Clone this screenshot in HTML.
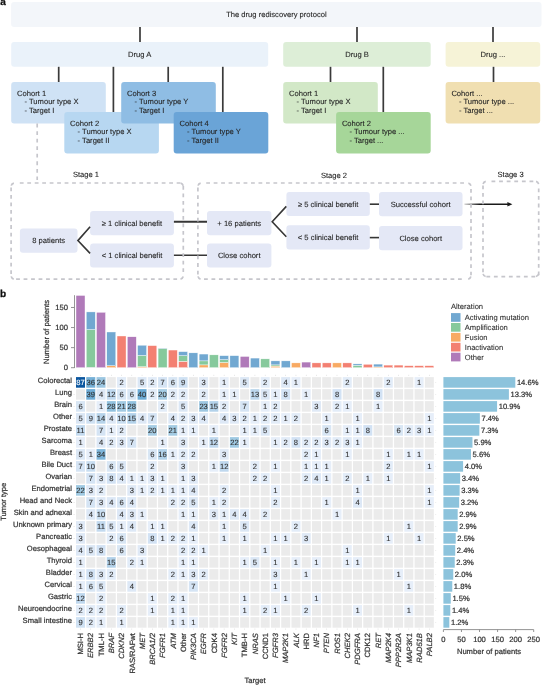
<!DOCTYPE html>
<html><head><meta charset="utf-8"><style>
html,body{margin:0;padding:0;background:#fff;}
body{width:542px;height:685px;position:relative;overflow:hidden;font-family:"Liberation Sans", sans-serif;}
svg text{font-family:"Liberation Sans", sans-serif;text-rendering:geometricPrecision;}
</style></head><body>
<svg width="542" height="685" viewBox="0 0 542 685" style="position:absolute;left:0;top:0;will-change:transform">
<text x="0.20" y="5.40" font-size="10" fill="#111" stroke="#111" text-anchor="start" stroke-width="0.3" font-weight="bold">a</text>
<rect x="11.10" y="2.10" width="530.40" height="24.80" rx="3" fill="#f3f6fa"/>
<text x="276.40" y="16.60" font-size="7.6" fill="#262626" stroke="#262626" text-anchor="middle" stroke-width="0.1">The drug rediscovery protocol</text>
<line x1="140.00" y1="26.90" x2="140.00" y2="42.10" stroke="#3a3a3a" stroke-width="1.7"/>
<line x1="357.00" y1="26.90" x2="357.00" y2="42.10" stroke="#3a3a3a" stroke-width="1.7"/>
<line x1="493.00" y1="26.90" x2="493.00" y2="42.10" stroke="#3a3a3a" stroke-width="1.7"/>
<rect x="11.20" y="42.10" width="257.00" height="24.70" rx="3" fill="#eaf2fa"/>
<text x="139.70" y="57.20" font-size="7.6" fill="#262626" stroke="#262626" text-anchor="middle" stroke-width="0.1">Drug A</text>
<rect x="283.20" y="42.10" width="147.50" height="24.70" rx="3" fill="#ddeed7"/>
<text x="357.00" y="57.20" font-size="7.6" fill="#262626" stroke="#262626" text-anchor="middle" stroke-width="0.1">Drug B</text>
<rect x="445.60" y="42.10" width="94.60" height="24.70" rx="3" fill="#f6f3d7"/>
<text x="493.00" y="57.20" font-size="7.6" fill="#262626" stroke="#262626" text-anchor="middle" stroke-width="0.1">Drug ...</text>
<line x1="58.70" y1="66.80" x2="58.70" y2="82.00" stroke="#3a3a3a" stroke-width="1.7"/>
<line x1="113.40" y1="66.80" x2="113.40" y2="112.00" stroke="#3a3a3a" stroke-width="1.7"/>
<line x1="168.20" y1="66.80" x2="168.20" y2="82.00" stroke="#3a3a3a" stroke-width="1.7"/>
<line x1="222.80" y1="66.80" x2="222.80" y2="112.00" stroke="#3a3a3a" stroke-width="1.7"/>
<line x1="330.50" y1="66.80" x2="330.50" y2="82.00" stroke="#3a3a3a" stroke-width="1.7"/>
<line x1="383.30" y1="66.80" x2="383.30" y2="112.00" stroke="#3a3a3a" stroke-width="1.7"/>
<line x1="493.50" y1="66.80" x2="493.50" y2="82.00" stroke="#3a3a3a" stroke-width="1.7"/>
<rect x="11.20" y="82.00" width="94.60" height="41.50" rx="3" fill="#cfe2f5"/>
<text x="17.00" y="96.00" font-size="7.6" fill="#262626" stroke="#262626" text-anchor="start" stroke-width="0.1">Cohort 1</text>
<text x="24.50" y="104.20" font-size="7.6" fill="#262626" stroke="#262626" text-anchor="start" stroke-width="0.1">- Tumour type X</text>
<text x="24.50" y="113.00" font-size="7.6" fill="#262626" stroke="#262626" text-anchor="start" stroke-width="0.1">- Target I</text>
<rect x="64.30" y="112.00" width="94.60" height="41.50" rx="3" fill="#b7d7f1"/>
<text x="70.10" y="126.00" font-size="7.6" fill="#262626" stroke="#262626" text-anchor="start" stroke-width="0.1">Cohort 2</text>
<text x="77.60" y="134.20" font-size="7.6" fill="#262626" stroke="#262626" text-anchor="start" stroke-width="0.1">- Tumour type X</text>
<text x="77.60" y="143.00" font-size="7.6" fill="#262626" stroke="#262626" text-anchor="start" stroke-width="0.1">- Target II</text>
<rect x="121.20" y="82.00" width="94.60" height="41.50" rx="3" fill="#8fbde4"/>
<text x="127.00" y="96.00" font-size="7.6" fill="#262626" stroke="#262626" text-anchor="start" stroke-width="0.1">Cohort 3</text>
<text x="134.50" y="104.20" font-size="7.6" fill="#262626" stroke="#262626" text-anchor="start" stroke-width="0.1">- Tumour type Y</text>
<text x="134.50" y="113.00" font-size="7.6" fill="#262626" stroke="#262626" text-anchor="start" stroke-width="0.1">- Target I</text>
<rect x="173.70" y="112.00" width="94.60" height="41.50" rx="3" fill="#6aa4d7"/>
<text x="179.50" y="126.00" font-size="7.6" fill="#262626" stroke="#262626" text-anchor="start" stroke-width="0.1">Cohort 4</text>
<text x="187.00" y="134.20" font-size="7.6" fill="#262626" stroke="#262626" text-anchor="start" stroke-width="0.1">- Tumour type Y</text>
<text x="187.00" y="143.00" font-size="7.6" fill="#262626" stroke="#262626" text-anchor="start" stroke-width="0.1">- Target II</text>
<rect x="283.20" y="82.00" width="94.60" height="41.50" rx="3" fill="#d2e8c7"/>
<text x="289.00" y="96.00" font-size="7.6" fill="#262626" stroke="#262626" text-anchor="start" stroke-width="0.1">Cohort 1</text>
<text x="296.50" y="104.20" font-size="7.6" fill="#262626" stroke="#262626" text-anchor="start" stroke-width="0.1">- Tumour type X</text>
<text x="296.50" y="113.00" font-size="7.6" fill="#262626" stroke="#262626" text-anchor="start" stroke-width="0.1">- Target I</text>
<rect x="336.10" y="112.00" width="94.60" height="41.50" rx="3" fill="#a6d699"/>
<text x="341.90" y="126.00" font-size="7.6" fill="#262626" stroke="#262626" text-anchor="start" stroke-width="0.1">Cohort 2</text>
<text x="349.40" y="134.20" font-size="7.6" fill="#262626" stroke="#262626" text-anchor="start" stroke-width="0.1">- Tumour type ...</text>
<text x="349.40" y="143.00" font-size="7.6" fill="#262626" stroke="#262626" text-anchor="start" stroke-width="0.1">- Target ...</text>
<rect x="445.60" y="82.00" width="94.60" height="41.50" rx="3" fill="#f0dfb1"/>
<text x="451.40" y="96.00" font-size="7.6" fill="#262626" stroke="#262626" text-anchor="start" stroke-width="0.1">Cohort ...</text>
<text x="458.90" y="104.20" font-size="7.6" fill="#262626" stroke="#262626" text-anchor="start" stroke-width="0.1">- Tumour type ...</text>
<text x="458.90" y="113.00" font-size="7.6" fill="#262626" stroke="#262626" text-anchor="start" stroke-width="0.1">- Target ...</text>
<line x1="37.2" y1="123.6" x2="37.2" y2="180" stroke="#c6c6cc" stroke-width="1.7" stroke-dasharray="3.8 3.75"/>
<text x="86.00" y="176.80" font-size="7.6" fill="#262626" stroke="#262626" text-anchor="middle" stroke-width="0.1">Stage 1</text>
<text x="334.00" y="178.00" font-size="7.6" fill="#262626" stroke="#262626" text-anchor="middle" stroke-width="0.1">Stage 2</text>
<text x="510.60" y="177.40" font-size="7.6" fill="#262626" stroke="#262626" text-anchor="middle" stroke-width="0.1">Stage 3</text>
<rect x="19.90" y="228.40" width="57.60" height="24.30" rx="3" fill="#e4e8f6"/>
<text x="48.70" y="243.30" font-size="7.6" fill="#262626" stroke="#262626" text-anchor="middle" stroke-width="0.1">8 patients</text>
<rect x="90.10" y="211.10" width="83.80" height="24.20" rx="3" fill="#e4e8f6"/>
<text x="132.00" y="226.00" font-size="7.6" fill="#262626" stroke="#262626" text-anchor="middle" stroke-width="0.1">&#8805; 1 clinical benefit</text>
<rect x="90.10" y="243.40" width="83.80" height="24.20" rx="3" fill="#e4e8f6"/>
<text x="132.00" y="258.20" font-size="7.6" fill="#262626" stroke="#262626" text-anchor="middle" stroke-width="0.1">&lt; 1 clinical benefit</text>
<rect x="207.00" y="211.00" width="64.40" height="24.30" rx="3" fill="#e4e8f6"/>
<text x="239.20" y="225.80" font-size="7.6" fill="#262626" stroke="#262626" text-anchor="middle" stroke-width="0.1">+ 16 patients</text>
<rect x="207.00" y="243.40" width="64.40" height="24.20" rx="3" fill="#e4e8f6"/>
<text x="239.20" y="258.20" font-size="7.6" fill="#262626" stroke="#262626" text-anchor="middle" stroke-width="0.1">Close cohort</text>
<rect x="286.40" y="191.90" width="83.40" height="24.20" rx="3" fill="#e4e8f6"/>
<text x="328.10" y="206.70" font-size="7.6" fill="#262626" stroke="#262626" text-anchor="middle" stroke-width="0.1">&#8805; 5 clinical benefit</text>
<rect x="286.40" y="225.30" width="83.40" height="24.30" rx="3" fill="#e4e8f6"/>
<text x="328.10" y="240.30" font-size="7.6" fill="#262626" stroke="#262626" text-anchor="middle" stroke-width="0.1">&lt; 5 clinical benefit</text>
<rect x="379.00" y="192.00" width="83.50" height="24.20" rx="3" fill="#e4e8f6"/>
<text x="420.70" y="206.80" font-size="7.6" fill="#262626" stroke="#262626" text-anchor="middle" stroke-width="0.1">Successful cohort</text>
<rect x="379.00" y="226.00" width="83.50" height="24.30" rx="3" fill="#e4e8f6"/>
<text x="420.70" y="240.60" font-size="7.6" fill="#262626" stroke="#262626" text-anchor="middle" stroke-width="0.1">Close cohort</text>
<polyline points="90.1,226.8 77.9,240.6 90.1,253.4" fill="none" stroke="#363636" stroke-width="1.6"/>
<polyline points="286.3,206.4 272.2,221.7 286.3,236.8" fill="none" stroke="#363636" stroke-width="1.6"/>
<line x1="173.9" y1="221.7" x2="207" y2="221.7" stroke="#363636" stroke-width="1.9"/>
<line x1="173.9" y1="255.3" x2="207" y2="255.3" stroke="#363636" stroke-width="1.4"/>
<line x1="369.8" y1="204.2" x2="379" y2="204.2" stroke="#363636" stroke-width="1.6"/>
<line x1="369.8" y1="237.6" x2="379" y2="237.6" stroke="#363636" stroke-width="1.6"/>
<defs><linearGradient id="ag" x1="464" y1="0" x2="509" y2="0" gradientUnits="userSpaceOnUse"><stop offset="0" stop-color="#1a1a1a" stop-opacity="0.15"/><stop offset="0.35" stop-color="#1a1a1a" stop-opacity="1"/><stop offset="1" stop-color="#1a1a1a"/></linearGradient></defs>
<line x1="464.4" y1="204.2" x2="509" y2="204.2" stroke="url(#ag)" stroke-width="1.6"/>
<polygon points="507.4,202.0 512.4,204.2 507.4,206.4" fill="#1a1a1a"/>
<line x1="19.8" y1="183" x2="180.5" y2="183" stroke="#c6c6cc" stroke-width="1.7" stroke-dasharray="3.8 3.67"/>
<line x1="183.3" y1="186" x2="183.3" y2="272.1" stroke="#c6c6cc" stroke-width="1.7" stroke-dasharray="3.8 3.68"/>
<line x1="16.1" y1="279.2" x2="177.1" y2="279.2" stroke="#c6c6cc" stroke-width="1.7" stroke-dasharray="3.8 3.69"/>
<line x1="11.1" y1="187.4" x2="11.1" y2="274.1" stroke="#c6c6cc" stroke-width="1.7" stroke-dasharray="3.8 3.74"/>
<path d="M11.1,186.5 A3.5,3.5 0 0 1 14.6,183" fill="none" stroke="#c6c6cc" stroke-width="1.7" stroke-dasharray="0 0.9 3.7 9"/>
<path d="M179.8,183 A3.5,3.5 0 0 1 183.3,186.5" fill="none" stroke="#c6c6cc" stroke-width="1.7" stroke-dasharray="0 0.9 3.7 9"/>
<path d="M183.3,275.7 A3.5,3.5 0 0 1 179.8,279.2" fill="none" stroke="#c6c6cc" stroke-width="1.7" stroke-dasharray="0 0.9 3.7 9"/>
<path d="M14.6,279.2 A3.5,3.5 0 0 1 11.1,275.7" fill="none" stroke="#c6c6cc" stroke-width="1.7" stroke-dasharray="0 0.9 3.7 9"/>
<line x1="206.2" y1="183" x2="464" y2="183" stroke="#c6c6cc" stroke-width="1.7" stroke-dasharray="3.8 3.67"/>
<line x1="471" y1="189" x2="471" y2="275.3" stroke="#c6c6cc" stroke-width="1.7" stroke-dasharray="3.8 3.72"/>
<line x1="204" y1="279.2" x2="461.8" y2="279.2" stroke="#c6c6cc" stroke-width="1.7" stroke-dasharray="3.8 3.67"/>
<line x1="197.9" y1="187.6" x2="197.9" y2="274.5" stroke="#c6c6cc" stroke-width="1.7" stroke-dasharray="3.8 3.75"/>
<path d="M197.9,186.5 A3.5,3.5 0 0 1 201.4,183" fill="none" stroke="#c6c6cc" stroke-width="1.7" stroke-dasharray="0 0.9 3.7 9"/>
<path d="M467.5,183 A3.5,3.5 0 0 1 471,186.5" fill="none" stroke="#c6c6cc" stroke-width="1.7" stroke-dasharray="0 0.9 3.7 9"/>
<path d="M471,275.7 A3.5,3.5 0 0 1 467.5,279.2" fill="none" stroke="#c6c6cc" stroke-width="1.7" stroke-dasharray="0 0.9 3.7 9"/>
<path d="M201.4,279.2 A3.5,3.5 0 0 1 197.9,275.7" fill="none" stroke="#c6c6cc" stroke-width="1.7" stroke-dasharray="0 0.9 3.7 9"/>
<line x1="491.5" y1="181.3" x2="533.7" y2="181.3" stroke="#c6c6cc" stroke-width="1.7" stroke-dasharray="3.8 3.80"/>
<line x1="538.7" y1="188.5" x2="538.7" y2="275.3" stroke="#c6c6cc" stroke-width="1.7" stroke-dasharray="3.8 3.75"/>
<line x1="486.4" y1="276.6" x2="535.2" y2="276.6" stroke="#c6c6cc" stroke-width="1.7" stroke-dasharray="3.8 3.70"/>
<line x1="483" y1="185.4" x2="483" y2="272.4" stroke="#c6c6cc" stroke-width="1.7" stroke-dasharray="3.8 3.76"/>
<path d="M483,184.8 A3.5,3.5 0 0 1 486.5,181.3" fill="none" stroke="#c6c6cc" stroke-width="1.7" stroke-dasharray="0 0.9 3.7 9"/>
<path d="M535.2,181.3 A3.5,3.5 0 0 1 538.7,184.8" fill="none" stroke="#c6c6cc" stroke-width="1.7" stroke-dasharray="0 0.9 3.7 9"/>
<path d="M538.7,273.1 A3.5,3.5 0 0 1 535.2,276.6" fill="none" stroke="#c6c6cc" stroke-width="1.7" stroke-dasharray="0 0.9 3.7 9"/>
<path d="M486.5,276.6 A3.5,3.5 0 0 1 483,273.1" fill="none" stroke="#c6c6cc" stroke-width="1.7" stroke-dasharray="0 0.9 3.7 9"/>
<text x="-0.10" y="296.60" font-size="10" fill="#111" stroke="#111" text-anchor="start" stroke-width="0.3" font-weight="bold">b</text>
<rect x="76.00" y="377.10" width="9.0" height="10.6" fill="#0b569f"/>
<text x="80.50" y="385.10" fill="#fff" stroke="#fff" font-size="7.6" text-anchor="middle" stroke-width="0.12">87</text>
<rect x="86.26" y="377.10" width="9.0" height="10.6" fill="#76b1d8"/>
<text x="90.76" y="385.10" fill="#333" stroke="#333" font-size="7.6" text-anchor="middle" stroke-width="0.12">36</text>
<rect x="96.52" y="377.10" width="9.0" height="10.6" fill="#9cc7e2"/>
<text x="101.02" y="385.10" fill="#333" stroke="#333" font-size="7.6" text-anchor="middle" stroke-width="0.12">24</text>
<rect x="106.78" y="377.10" width="9.0" height="10.6" fill="#ebebeb"/>
<rect x="117.04" y="377.10" width="9.0" height="10.6" fill="#e2ecf8"/>
<text x="121.54" y="385.10" fill="#333" stroke="#333" font-size="7.6" text-anchor="middle" stroke-width="0.12">2</text>
<rect x="127.30" y="377.10" width="9.0" height="10.6" fill="#ebebeb"/>
<rect x="137.56" y="377.10" width="9.0" height="10.6" fill="#dbe7f5"/>
<text x="142.06" y="385.10" fill="#333" stroke="#333" font-size="7.6" text-anchor="middle" stroke-width="0.12">5</text>
<rect x="147.82" y="377.10" width="9.0" height="10.6" fill="#e2ecf8"/>
<text x="152.32" y="385.10" fill="#333" stroke="#333" font-size="7.6" text-anchor="middle" stroke-width="0.12">2</text>
<rect x="158.08" y="377.10" width="9.0" height="10.6" fill="#d5e4f4"/>
<text x="162.58" y="385.10" fill="#333" stroke="#333" font-size="7.6" text-anchor="middle" stroke-width="0.12">7</text>
<rect x="168.34" y="377.10" width="9.0" height="10.6" fill="#d8e6f4"/>
<text x="172.84" y="385.10" fill="#333" stroke="#333" font-size="7.6" text-anchor="middle" stroke-width="0.12">6</text>
<rect x="178.60" y="377.10" width="9.0" height="10.6" fill="#cfe1f3"/>
<text x="183.10" y="385.10" fill="#333" stroke="#333" font-size="7.6" text-anchor="middle" stroke-width="0.12">9</text>
<rect x="188.86" y="377.10" width="9.0" height="10.6" fill="#ebebeb"/>
<rect x="199.12" y="377.10" width="9.0" height="10.6" fill="#dfe9f6"/>
<text x="203.62" y="385.10" fill="#333" stroke="#333" font-size="7.6" text-anchor="middle" stroke-width="0.12">3</text>
<rect x="209.38" y="377.10" width="9.0" height="10.6" fill="#ebebeb"/>
<rect x="219.64" y="377.10" width="9.0" height="10.6" fill="#e6eef9"/>
<text x="224.14" y="385.10" fill="#333" stroke="#333" font-size="7.6" text-anchor="middle" stroke-width="0.12">1</text>
<rect x="229.90" y="377.10" width="9.0" height="10.6" fill="#ebebeb"/>
<rect x="240.16" y="377.10" width="9.0" height="10.6" fill="#dbe7f5"/>
<text x="244.66" y="385.10" fill="#333" stroke="#333" font-size="7.6" text-anchor="middle" stroke-width="0.12">5</text>
<rect x="250.42" y="377.10" width="9.0" height="10.6" fill="#ebebeb"/>
<rect x="260.68" y="377.10" width="9.0" height="10.6" fill="#e2ecf8"/>
<text x="265.18" y="385.10" fill="#333" stroke="#333" font-size="7.6" text-anchor="middle" stroke-width="0.12">2</text>
<rect x="270.94" y="377.10" width="9.0" height="10.6" fill="#ebebeb"/>
<rect x="281.20" y="377.10" width="9.0" height="10.6" fill="#dde8f6"/>
<text x="285.70" y="385.10" fill="#333" stroke="#333" font-size="7.6" text-anchor="middle" stroke-width="0.12">4</text>
<rect x="291.46" y="377.10" width="9.0" height="10.6" fill="#e6eef9"/>
<text x="295.96" y="385.10" fill="#333" stroke="#333" font-size="7.6" text-anchor="middle" stroke-width="0.12">1</text>
<rect x="301.72" y="377.10" width="9.0" height="10.6" fill="#ebebeb"/>
<rect x="311.98" y="377.10" width="9.0" height="10.6" fill="#ebebeb"/>
<rect x="322.24" y="377.10" width="9.0" height="10.6" fill="#ebebeb"/>
<rect x="332.50" y="377.10" width="9.0" height="10.6" fill="#ebebeb"/>
<rect x="342.76" y="377.10" width="9.0" height="10.6" fill="#e2ecf8"/>
<text x="347.26" y="385.10" fill="#333" stroke="#333" font-size="7.6" text-anchor="middle" stroke-width="0.12">2</text>
<rect x="353.02" y="377.10" width="9.0" height="10.6" fill="#ebebeb"/>
<rect x="363.28" y="377.10" width="9.0" height="10.6" fill="#ebebeb"/>
<rect x="373.54" y="377.10" width="9.0" height="10.6" fill="#ebebeb"/>
<rect x="383.80" y="377.10" width="9.0" height="10.6" fill="#e2ecf8"/>
<text x="388.30" y="385.10" fill="#333" stroke="#333" font-size="7.6" text-anchor="middle" stroke-width="0.12">2</text>
<rect x="394.06" y="377.10" width="9.0" height="10.6" fill="#ebebeb"/>
<rect x="404.32" y="377.10" width="9.0" height="10.6" fill="#ebebeb"/>
<rect x="414.58" y="377.10" width="9.0" height="10.6" fill="#e6eef9"/>
<text x="419.08" y="385.10" fill="#333" stroke="#333" font-size="7.6" text-anchor="middle" stroke-width="0.12">1</text>
<rect x="424.84" y="377.10" width="9.0" height="10.6" fill="#ebebeb"/>
<rect x="76.00" y="389.10" width="9.0" height="10.6" fill="#ebebeb"/>
<rect x="86.26" y="389.10" width="9.0" height="10.6" fill="#6eacd6"/>
<text x="90.76" y="397.10" fill="#333" stroke="#333" font-size="7.6" text-anchor="middle" stroke-width="0.12">39</text>
<rect x="96.52" y="389.10" width="9.0" height="10.6" fill="#dde8f6"/>
<text x="101.02" y="397.10" fill="#333" stroke="#333" font-size="7.6" text-anchor="middle" stroke-width="0.12">4</text>
<rect x="106.78" y="389.10" width="9.0" height="10.6" fill="#bfd8ee"/>
<text x="111.28" y="397.10" fill="#333" stroke="#333" font-size="7.6" text-anchor="middle" stroke-width="0.12">12</text>
<rect x="117.04" y="389.10" width="9.0" height="10.6" fill="#d8e6f4"/>
<text x="121.54" y="397.10" fill="#333" stroke="#333" font-size="7.6" text-anchor="middle" stroke-width="0.12">6</text>
<rect x="127.30" y="389.10" width="9.0" height="10.6" fill="#d8e6f4"/>
<text x="131.80" y="397.10" fill="#333" stroke="#333" font-size="7.6" text-anchor="middle" stroke-width="0.12">6</text>
<rect x="137.56" y="389.10" width="9.0" height="10.6" fill="#6babd5"/>
<text x="142.06" y="397.10" fill="#333" stroke="#333" font-size="7.6" text-anchor="middle" stroke-width="0.12">40</text>
<rect x="147.82" y="389.10" width="9.0" height="10.6" fill="#e2ecf8"/>
<text x="152.32" y="397.10" fill="#333" stroke="#333" font-size="7.6" text-anchor="middle" stroke-width="0.12">2</text>
<rect x="158.08" y="389.10" width="9.0" height="10.6" fill="#a5cce4"/>
<text x="162.58" y="397.10" fill="#333" stroke="#333" font-size="7.6" text-anchor="middle" stroke-width="0.12">20</text>
<rect x="168.34" y="389.10" width="9.0" height="10.6" fill="#e2ecf8"/>
<text x="172.84" y="397.10" fill="#333" stroke="#333" font-size="7.6" text-anchor="middle" stroke-width="0.12">2</text>
<rect x="178.60" y="389.10" width="9.0" height="10.6" fill="#e2ecf8"/>
<text x="183.10" y="397.10" fill="#333" stroke="#333" font-size="7.6" text-anchor="middle" stroke-width="0.12">2</text>
<rect x="188.86" y="389.10" width="9.0" height="10.6" fill="#ebebeb"/>
<rect x="199.12" y="389.10" width="9.0" height="10.6" fill="#e2ecf8"/>
<text x="203.62" y="397.10" fill="#333" stroke="#333" font-size="7.6" text-anchor="middle" stroke-width="0.12">2</text>
<rect x="209.38" y="389.10" width="9.0" height="10.6" fill="#ebebeb"/>
<rect x="219.64" y="389.10" width="9.0" height="10.6" fill="#e6eef9"/>
<text x="224.14" y="397.10" fill="#333" stroke="#333" font-size="7.6" text-anchor="middle" stroke-width="0.12">1</text>
<rect x="229.90" y="389.10" width="9.0" height="10.6" fill="#e6eef9"/>
<text x="234.40" y="397.10" fill="#333" stroke="#333" font-size="7.6" text-anchor="middle" stroke-width="0.12">1</text>
<rect x="240.16" y="389.10" width="9.0" height="10.6" fill="#ebebeb"/>
<rect x="250.42" y="389.10" width="9.0" height="10.6" fill="#bbd6ec"/>
<text x="254.92" y="397.10" fill="#333" stroke="#333" font-size="7.6" text-anchor="middle" stroke-width="0.12">13</text>
<rect x="260.68" y="389.10" width="9.0" height="10.6" fill="#dbe7f5"/>
<text x="265.18" y="397.10" fill="#333" stroke="#333" font-size="7.6" text-anchor="middle" stroke-width="0.12">5</text>
<rect x="270.94" y="389.10" width="9.0" height="10.6" fill="#e6eef9"/>
<text x="275.44" y="397.10" fill="#333" stroke="#333" font-size="7.6" text-anchor="middle" stroke-width="0.12">1</text>
<rect x="281.20" y="389.10" width="9.0" height="10.6" fill="#d2e2f4"/>
<text x="285.70" y="397.10" fill="#333" stroke="#333" font-size="7.6" text-anchor="middle" stroke-width="0.12">8</text>
<rect x="291.46" y="389.10" width="9.0" height="10.6" fill="#ebebeb"/>
<rect x="301.72" y="389.10" width="9.0" height="10.6" fill="#e6eef9"/>
<text x="306.22" y="397.10" fill="#333" stroke="#333" font-size="7.6" text-anchor="middle" stroke-width="0.12">1</text>
<rect x="311.98" y="389.10" width="9.0" height="10.6" fill="#ebebeb"/>
<rect x="322.24" y="389.10" width="9.0" height="10.6" fill="#ebebeb"/>
<rect x="332.50" y="389.10" width="9.0" height="10.6" fill="#d2e2f4"/>
<text x="337.00" y="397.10" fill="#333" stroke="#333" font-size="7.6" text-anchor="middle" stroke-width="0.12">8</text>
<rect x="342.76" y="389.10" width="9.0" height="10.6" fill="#ebebeb"/>
<rect x="353.02" y="389.10" width="9.0" height="10.6" fill="#ebebeb"/>
<rect x="363.28" y="389.10" width="9.0" height="10.6" fill="#ebebeb"/>
<rect x="373.54" y="389.10" width="9.0" height="10.6" fill="#d2e2f4"/>
<text x="378.04" y="397.10" fill="#333" stroke="#333" font-size="7.6" text-anchor="middle" stroke-width="0.12">8</text>
<rect x="383.80" y="389.10" width="9.0" height="10.6" fill="#ebebeb"/>
<rect x="394.06" y="389.10" width="9.0" height="10.6" fill="#ebebeb"/>
<rect x="404.32" y="389.10" width="9.0" height="10.6" fill="#ebebeb"/>
<rect x="414.58" y="389.10" width="9.0" height="10.6" fill="#ebebeb"/>
<rect x="424.84" y="389.10" width="9.0" height="10.6" fill="#ebebeb"/>
<rect x="76.00" y="401.10" width="9.0" height="10.6" fill="#d8e6f4"/>
<text x="80.50" y="409.10" fill="#333" stroke="#333" font-size="7.6" text-anchor="middle" stroke-width="0.12">6</text>
<rect x="86.26" y="401.10" width="9.0" height="10.6" fill="#ebebeb"/>
<rect x="96.52" y="401.10" width="9.0" height="10.6" fill="#e6eef9"/>
<text x="101.02" y="409.10" fill="#333" stroke="#333" font-size="7.6" text-anchor="middle" stroke-width="0.12">1</text>
<rect x="106.78" y="401.10" width="9.0" height="10.6" fill="#92c2df"/>
<text x="111.28" y="409.10" fill="#333" stroke="#333" font-size="7.6" text-anchor="middle" stroke-width="0.12">28</text>
<rect x="117.04" y="401.10" width="9.0" height="10.6" fill="#a3cbe3"/>
<text x="121.54" y="409.10" fill="#333" stroke="#333" font-size="7.6" text-anchor="middle" stroke-width="0.12">21</text>
<rect x="127.30" y="401.10" width="9.0" height="10.6" fill="#92c2df"/>
<text x="131.80" y="409.10" fill="#333" stroke="#333" font-size="7.6" text-anchor="middle" stroke-width="0.12">28</text>
<rect x="137.56" y="401.10" width="9.0" height="10.6" fill="#ebebeb"/>
<rect x="147.82" y="401.10" width="9.0" height="10.6" fill="#ebebeb"/>
<rect x="158.08" y="401.10" width="9.0" height="10.6" fill="#e2ecf8"/>
<text x="162.58" y="409.10" fill="#333" stroke="#333" font-size="7.6" text-anchor="middle" stroke-width="0.12">2</text>
<rect x="168.34" y="401.10" width="9.0" height="10.6" fill="#ebebeb"/>
<rect x="178.60" y="401.10" width="9.0" height="10.6" fill="#dbe7f5"/>
<text x="183.10" y="409.10" fill="#333" stroke="#333" font-size="7.6" text-anchor="middle" stroke-width="0.12">5</text>
<rect x="188.86" y="401.10" width="9.0" height="10.6" fill="#ebebeb"/>
<rect x="199.12" y="401.10" width="9.0" height="10.6" fill="#9ec8e2"/>
<text x="203.62" y="409.10" fill="#333" stroke="#333" font-size="7.6" text-anchor="middle" stroke-width="0.12">23</text>
<rect x="209.38" y="401.10" width="9.0" height="10.6" fill="#b3d2ea"/>
<text x="213.88" y="409.10" fill="#333" stroke="#333" font-size="7.6" text-anchor="middle" stroke-width="0.12">15</text>
<rect x="219.64" y="401.10" width="9.0" height="10.6" fill="#e2ecf8"/>
<text x="224.14" y="409.10" fill="#333" stroke="#333" font-size="7.6" text-anchor="middle" stroke-width="0.12">2</text>
<rect x="229.90" y="401.10" width="9.0" height="10.6" fill="#ebebeb"/>
<rect x="240.16" y="401.10" width="9.0" height="10.6" fill="#d5e4f4"/>
<text x="244.66" y="409.10" fill="#333" stroke="#333" font-size="7.6" text-anchor="middle" stroke-width="0.12">7</text>
<rect x="250.42" y="401.10" width="9.0" height="10.6" fill="#ebebeb"/>
<rect x="260.68" y="401.10" width="9.0" height="10.6" fill="#e6eef9"/>
<text x="265.18" y="409.10" fill="#333" stroke="#333" font-size="7.6" text-anchor="middle" stroke-width="0.12">1</text>
<rect x="270.94" y="401.10" width="9.0" height="10.6" fill="#e2ecf8"/>
<text x="275.44" y="409.10" fill="#333" stroke="#333" font-size="7.6" text-anchor="middle" stroke-width="0.12">2</text>
<rect x="281.20" y="401.10" width="9.0" height="10.6" fill="#ebebeb"/>
<rect x="291.46" y="401.10" width="9.0" height="10.6" fill="#ebebeb"/>
<rect x="301.72" y="401.10" width="9.0" height="10.6" fill="#ebebeb"/>
<rect x="311.98" y="401.10" width="9.0" height="10.6" fill="#dfe9f6"/>
<text x="316.48" y="409.10" fill="#333" stroke="#333" font-size="7.6" text-anchor="middle" stroke-width="0.12">3</text>
<rect x="322.24" y="401.10" width="9.0" height="10.6" fill="#ebebeb"/>
<rect x="332.50" y="401.10" width="9.0" height="10.6" fill="#e2ecf8"/>
<text x="337.00" y="409.10" fill="#333" stroke="#333" font-size="7.6" text-anchor="middle" stroke-width="0.12">2</text>
<rect x="342.76" y="401.10" width="9.0" height="10.6" fill="#e6eef9"/>
<text x="347.26" y="409.10" fill="#333" stroke="#333" font-size="7.6" text-anchor="middle" stroke-width="0.12">1</text>
<rect x="353.02" y="401.10" width="9.0" height="10.6" fill="#ebebeb"/>
<rect x="363.28" y="401.10" width="9.0" height="10.6" fill="#ebebeb"/>
<rect x="373.54" y="401.10" width="9.0" height="10.6" fill="#e6eef9"/>
<text x="378.04" y="409.10" fill="#333" stroke="#333" font-size="7.6" text-anchor="middle" stroke-width="0.12">1</text>
<rect x="383.80" y="401.10" width="9.0" height="10.6" fill="#ebebeb"/>
<rect x="394.06" y="401.10" width="9.0" height="10.6" fill="#ebebeb"/>
<rect x="404.32" y="401.10" width="9.0" height="10.6" fill="#ebebeb"/>
<rect x="414.58" y="401.10" width="9.0" height="10.6" fill="#ebebeb"/>
<rect x="424.84" y="401.10" width="9.0" height="10.6" fill="#ebebeb"/>
<rect x="76.00" y="413.10" width="9.0" height="10.6" fill="#dbe7f5"/>
<text x="80.50" y="421.10" fill="#333" stroke="#333" font-size="7.6" text-anchor="middle" stroke-width="0.12">5</text>
<rect x="86.26" y="413.10" width="9.0" height="10.6" fill="#cfe1f3"/>
<text x="90.76" y="421.10" fill="#333" stroke="#333" font-size="7.6" text-anchor="middle" stroke-width="0.12">9</text>
<rect x="96.52" y="413.10" width="9.0" height="10.6" fill="#b7d4eb"/>
<text x="101.02" y="421.10" fill="#333" stroke="#333" font-size="7.6" text-anchor="middle" stroke-width="0.12">14</text>
<rect x="106.78" y="413.10" width="9.0" height="10.6" fill="#dde8f6"/>
<text x="111.28" y="421.10" fill="#333" stroke="#333" font-size="7.6" text-anchor="middle" stroke-width="0.12">4</text>
<rect x="117.04" y="413.10" width="9.0" height="10.6" fill="#c9def1"/>
<text x="121.54" y="421.10" fill="#333" stroke="#333" font-size="7.6" text-anchor="middle" stroke-width="0.12">10</text>
<rect x="127.30" y="413.10" width="9.0" height="10.6" fill="#b3d2ea"/>
<text x="131.80" y="421.10" fill="#333" stroke="#333" font-size="7.6" text-anchor="middle" stroke-width="0.12">15</text>
<rect x="137.56" y="413.10" width="9.0" height="10.6" fill="#dde8f6"/>
<text x="142.06" y="421.10" fill="#333" stroke="#333" font-size="7.6" text-anchor="middle" stroke-width="0.12">4</text>
<rect x="147.82" y="413.10" width="9.0" height="10.6" fill="#d5e4f4"/>
<text x="152.32" y="421.10" fill="#333" stroke="#333" font-size="7.6" text-anchor="middle" stroke-width="0.12">7</text>
<rect x="158.08" y="413.10" width="9.0" height="10.6" fill="#ebebeb"/>
<rect x="168.34" y="413.10" width="9.0" height="10.6" fill="#dde8f6"/>
<text x="172.84" y="421.10" fill="#333" stroke="#333" font-size="7.6" text-anchor="middle" stroke-width="0.12">4</text>
<rect x="178.60" y="413.10" width="9.0" height="10.6" fill="#e2ecf8"/>
<text x="183.10" y="421.10" fill="#333" stroke="#333" font-size="7.6" text-anchor="middle" stroke-width="0.12">2</text>
<rect x="188.86" y="413.10" width="9.0" height="10.6" fill="#dfe9f6"/>
<text x="193.36" y="421.10" fill="#333" stroke="#333" font-size="7.6" text-anchor="middle" stroke-width="0.12">3</text>
<rect x="199.12" y="413.10" width="9.0" height="10.6" fill="#dde8f6"/>
<text x="203.62" y="421.10" fill="#333" stroke="#333" font-size="7.6" text-anchor="middle" stroke-width="0.12">4</text>
<rect x="209.38" y="413.10" width="9.0" height="10.6" fill="#ebebeb"/>
<rect x="219.64" y="413.10" width="9.0" height="10.6" fill="#dde8f6"/>
<text x="224.14" y="421.10" fill="#333" stroke="#333" font-size="7.6" text-anchor="middle" stroke-width="0.12">4</text>
<rect x="229.90" y="413.10" width="9.0" height="10.6" fill="#dfe9f6"/>
<text x="234.40" y="421.10" fill="#333" stroke="#333" font-size="7.6" text-anchor="middle" stroke-width="0.12">3</text>
<rect x="240.16" y="413.10" width="9.0" height="10.6" fill="#e2ecf8"/>
<text x="244.66" y="421.10" fill="#333" stroke="#333" font-size="7.6" text-anchor="middle" stroke-width="0.12">2</text>
<rect x="250.42" y="413.10" width="9.0" height="10.6" fill="#e6eef9"/>
<text x="254.92" y="421.10" fill="#333" stroke="#333" font-size="7.6" text-anchor="middle" stroke-width="0.12">1</text>
<rect x="260.68" y="413.10" width="9.0" height="10.6" fill="#e2ecf8"/>
<text x="265.18" y="421.10" fill="#333" stroke="#333" font-size="7.6" text-anchor="middle" stroke-width="0.12">2</text>
<rect x="270.94" y="413.10" width="9.0" height="10.6" fill="#e2ecf8"/>
<text x="275.44" y="421.10" fill="#333" stroke="#333" font-size="7.6" text-anchor="middle" stroke-width="0.12">2</text>
<rect x="281.20" y="413.10" width="9.0" height="10.6" fill="#e6eef9"/>
<text x="285.70" y="421.10" fill="#333" stroke="#333" font-size="7.6" text-anchor="middle" stroke-width="0.12">1</text>
<rect x="291.46" y="413.10" width="9.0" height="10.6" fill="#e2ecf8"/>
<text x="295.96" y="421.10" fill="#333" stroke="#333" font-size="7.6" text-anchor="middle" stroke-width="0.12">2</text>
<rect x="301.72" y="413.10" width="9.0" height="10.6" fill="#ebebeb"/>
<rect x="311.98" y="413.10" width="9.0" height="10.6" fill="#ebebeb"/>
<rect x="322.24" y="413.10" width="9.0" height="10.6" fill="#e6eef9"/>
<text x="326.74" y="421.10" fill="#333" stroke="#333" font-size="7.6" text-anchor="middle" stroke-width="0.12">1</text>
<rect x="332.50" y="413.10" width="9.0" height="10.6" fill="#ebebeb"/>
<rect x="342.76" y="413.10" width="9.0" height="10.6" fill="#ebebeb"/>
<rect x="353.02" y="413.10" width="9.0" height="10.6" fill="#e6eef9"/>
<text x="357.52" y="421.10" fill="#333" stroke="#333" font-size="7.6" text-anchor="middle" stroke-width="0.12">1</text>
<rect x="363.28" y="413.10" width="9.0" height="10.6" fill="#ebebeb"/>
<rect x="373.54" y="413.10" width="9.0" height="10.6" fill="#ebebeb"/>
<rect x="383.80" y="413.10" width="9.0" height="10.6" fill="#ebebeb"/>
<rect x="394.06" y="413.10" width="9.0" height="10.6" fill="#ebebeb"/>
<rect x="404.32" y="413.10" width="9.0" height="10.6" fill="#ebebeb"/>
<rect x="414.58" y="413.10" width="9.0" height="10.6" fill="#ebebeb"/>
<rect x="424.84" y="413.10" width="9.0" height="10.6" fill="#e6eef9"/>
<text x="429.34" y="421.10" fill="#333" stroke="#333" font-size="7.6" text-anchor="middle" stroke-width="0.12">1</text>
<rect x="76.00" y="425.10" width="9.0" height="10.6" fill="#c3daef"/>
<text x="80.50" y="433.10" fill="#333" stroke="#333" font-size="7.6" text-anchor="middle" stroke-width="0.12">11</text>
<rect x="86.26" y="425.10" width="9.0" height="10.6" fill="#ebebeb"/>
<rect x="96.52" y="425.10" width="9.0" height="10.6" fill="#d5e4f4"/>
<text x="101.02" y="433.10" fill="#333" stroke="#333" font-size="7.6" text-anchor="middle" stroke-width="0.12">7</text>
<rect x="106.78" y="425.10" width="9.0" height="10.6" fill="#e6eef9"/>
<text x="111.28" y="433.10" fill="#333" stroke="#333" font-size="7.6" text-anchor="middle" stroke-width="0.12">1</text>
<rect x="117.04" y="425.10" width="9.0" height="10.6" fill="#e2ecf8"/>
<text x="121.54" y="433.10" fill="#333" stroke="#333" font-size="7.6" text-anchor="middle" stroke-width="0.12">2</text>
<rect x="127.30" y="425.10" width="9.0" height="10.6" fill="#ebebeb"/>
<rect x="137.56" y="425.10" width="9.0" height="10.6" fill="#ebebeb"/>
<rect x="147.82" y="425.10" width="9.0" height="10.6" fill="#a5cce4"/>
<text x="152.32" y="433.10" fill="#333" stroke="#333" font-size="7.6" text-anchor="middle" stroke-width="0.12">20</text>
<rect x="158.08" y="425.10" width="9.0" height="10.6" fill="#ebebeb"/>
<rect x="168.34" y="425.10" width="9.0" height="10.6" fill="#a3cbe3"/>
<text x="172.84" y="433.10" fill="#333" stroke="#333" font-size="7.6" text-anchor="middle" stroke-width="0.12">21</text>
<rect x="178.60" y="425.10" width="9.0" height="10.6" fill="#e6eef9"/>
<text x="183.10" y="433.10" fill="#333" stroke="#333" font-size="7.6" text-anchor="middle" stroke-width="0.12">1</text>
<rect x="188.86" y="425.10" width="9.0" height="10.6" fill="#e6eef9"/>
<text x="193.36" y="433.10" fill="#333" stroke="#333" font-size="7.6" text-anchor="middle" stroke-width="0.12">1</text>
<rect x="199.12" y="425.10" width="9.0" height="10.6" fill="#ebebeb"/>
<rect x="209.38" y="425.10" width="9.0" height="10.6" fill="#e6eef9"/>
<text x="213.88" y="433.10" fill="#333" stroke="#333" font-size="7.6" text-anchor="middle" stroke-width="0.12">1</text>
<rect x="219.64" y="425.10" width="9.0" height="10.6" fill="#ebebeb"/>
<rect x="229.90" y="425.10" width="9.0" height="10.6" fill="#ebebeb"/>
<rect x="240.16" y="425.10" width="9.0" height="10.6" fill="#e6eef9"/>
<text x="244.66" y="433.10" fill="#333" stroke="#333" font-size="7.6" text-anchor="middle" stroke-width="0.12">1</text>
<rect x="250.42" y="425.10" width="9.0" height="10.6" fill="#e6eef9"/>
<text x="254.92" y="433.10" fill="#333" stroke="#333" font-size="7.6" text-anchor="middle" stroke-width="0.12">1</text>
<rect x="260.68" y="425.10" width="9.0" height="10.6" fill="#dbe7f5"/>
<text x="265.18" y="433.10" fill="#333" stroke="#333" font-size="7.6" text-anchor="middle" stroke-width="0.12">5</text>
<rect x="270.94" y="425.10" width="9.0" height="10.6" fill="#ebebeb"/>
<rect x="281.20" y="425.10" width="9.0" height="10.6" fill="#ebebeb"/>
<rect x="291.46" y="425.10" width="9.0" height="10.6" fill="#ebebeb"/>
<rect x="301.72" y="425.10" width="9.0" height="10.6" fill="#ebebeb"/>
<rect x="311.98" y="425.10" width="9.0" height="10.6" fill="#ebebeb"/>
<rect x="322.24" y="425.10" width="9.0" height="10.6" fill="#d8e6f4"/>
<text x="326.74" y="433.10" fill="#333" stroke="#333" font-size="7.6" text-anchor="middle" stroke-width="0.12">6</text>
<rect x="332.50" y="425.10" width="9.0" height="10.6" fill="#ebebeb"/>
<rect x="342.76" y="425.10" width="9.0" height="10.6" fill="#e6eef9"/>
<text x="347.26" y="433.10" fill="#333" stroke="#333" font-size="7.6" text-anchor="middle" stroke-width="0.12">1</text>
<rect x="353.02" y="425.10" width="9.0" height="10.6" fill="#e6eef9"/>
<text x="357.52" y="433.10" fill="#333" stroke="#333" font-size="7.6" text-anchor="middle" stroke-width="0.12">1</text>
<rect x="363.28" y="425.10" width="9.0" height="10.6" fill="#d2e2f4"/>
<text x="367.78" y="433.10" fill="#333" stroke="#333" font-size="7.6" text-anchor="middle" stroke-width="0.12">8</text>
<rect x="373.54" y="425.10" width="9.0" height="10.6" fill="#ebebeb"/>
<rect x="383.80" y="425.10" width="9.0" height="10.6" fill="#ebebeb"/>
<rect x="394.06" y="425.10" width="9.0" height="10.6" fill="#d8e6f4"/>
<text x="398.56" y="433.10" fill="#333" stroke="#333" font-size="7.6" text-anchor="middle" stroke-width="0.12">6</text>
<rect x="404.32" y="425.10" width="9.0" height="10.6" fill="#e2ecf8"/>
<text x="408.82" y="433.10" fill="#333" stroke="#333" font-size="7.6" text-anchor="middle" stroke-width="0.12">2</text>
<rect x="414.58" y="425.10" width="9.0" height="10.6" fill="#dfe9f6"/>
<text x="419.08" y="433.10" fill="#333" stroke="#333" font-size="7.6" text-anchor="middle" stroke-width="0.12">3</text>
<rect x="424.84" y="425.10" width="9.0" height="10.6" fill="#e6eef9"/>
<text x="429.34" y="433.10" fill="#333" stroke="#333" font-size="7.6" text-anchor="middle" stroke-width="0.12">1</text>
<rect x="76.00" y="437.10" width="9.0" height="10.6" fill="#e6eef9"/>
<text x="80.50" y="445.10" fill="#333" stroke="#333" font-size="7.6" text-anchor="middle" stroke-width="0.12">1</text>
<rect x="86.26" y="437.10" width="9.0" height="10.6" fill="#ebebeb"/>
<rect x="96.52" y="437.10" width="9.0" height="10.6" fill="#dde8f6"/>
<text x="101.02" y="445.10" fill="#333" stroke="#333" font-size="7.6" text-anchor="middle" stroke-width="0.12">4</text>
<rect x="106.78" y="437.10" width="9.0" height="10.6" fill="#e2ecf8"/>
<text x="111.28" y="445.10" fill="#333" stroke="#333" font-size="7.6" text-anchor="middle" stroke-width="0.12">2</text>
<rect x="117.04" y="437.10" width="9.0" height="10.6" fill="#dfe9f6"/>
<text x="121.54" y="445.10" fill="#333" stroke="#333" font-size="7.6" text-anchor="middle" stroke-width="0.12">3</text>
<rect x="127.30" y="437.10" width="9.0" height="10.6" fill="#d5e4f4"/>
<text x="131.80" y="445.10" fill="#333" stroke="#333" font-size="7.6" text-anchor="middle" stroke-width="0.12">7</text>
<rect x="137.56" y="437.10" width="9.0" height="10.6" fill="#ebebeb"/>
<rect x="147.82" y="437.10" width="9.0" height="10.6" fill="#ebebeb"/>
<rect x="158.08" y="437.10" width="9.0" height="10.6" fill="#e6eef9"/>
<text x="162.58" y="445.10" fill="#333" stroke="#333" font-size="7.6" text-anchor="middle" stroke-width="0.12">1</text>
<rect x="168.34" y="437.10" width="9.0" height="10.6" fill="#ebebeb"/>
<rect x="178.60" y="437.10" width="9.0" height="10.6" fill="#dfe9f6"/>
<text x="183.10" y="445.10" fill="#333" stroke="#333" font-size="7.6" text-anchor="middle" stroke-width="0.12">3</text>
<rect x="188.86" y="437.10" width="9.0" height="10.6" fill="#ebebeb"/>
<rect x="199.12" y="437.10" width="9.0" height="10.6" fill="#e6eef9"/>
<text x="203.62" y="445.10" fill="#333" stroke="#333" font-size="7.6" text-anchor="middle" stroke-width="0.12">1</text>
<rect x="209.38" y="437.10" width="9.0" height="10.6" fill="#bfd8ee"/>
<text x="213.88" y="445.10" fill="#333" stroke="#333" font-size="7.6" text-anchor="middle" stroke-width="0.12">12</text>
<rect x="219.64" y="437.10" width="9.0" height="10.6" fill="#ebebeb"/>
<rect x="229.90" y="437.10" width="9.0" height="10.6" fill="#a0cae3"/>
<text x="234.40" y="445.10" fill="#333" stroke="#333" font-size="7.6" text-anchor="middle" stroke-width="0.12">22</text>
<rect x="240.16" y="437.10" width="9.0" height="10.6" fill="#e6eef9"/>
<text x="244.66" y="445.10" fill="#333" stroke="#333" font-size="7.6" text-anchor="middle" stroke-width="0.12">1</text>
<rect x="250.42" y="437.10" width="9.0" height="10.6" fill="#ebebeb"/>
<rect x="260.68" y="437.10" width="9.0" height="10.6" fill="#ebebeb"/>
<rect x="270.94" y="437.10" width="9.0" height="10.6" fill="#e6eef9"/>
<text x="275.44" y="445.10" fill="#333" stroke="#333" font-size="7.6" text-anchor="middle" stroke-width="0.12">1</text>
<rect x="281.20" y="437.10" width="9.0" height="10.6" fill="#e2ecf8"/>
<text x="285.70" y="445.10" fill="#333" stroke="#333" font-size="7.6" text-anchor="middle" stroke-width="0.12">2</text>
<rect x="291.46" y="437.10" width="9.0" height="10.6" fill="#d2e2f4"/>
<text x="295.96" y="445.10" fill="#333" stroke="#333" font-size="7.6" text-anchor="middle" stroke-width="0.12">8</text>
<rect x="301.72" y="437.10" width="9.0" height="10.6" fill="#e2ecf8"/>
<text x="306.22" y="445.10" fill="#333" stroke="#333" font-size="7.6" text-anchor="middle" stroke-width="0.12">2</text>
<rect x="311.98" y="437.10" width="9.0" height="10.6" fill="#e2ecf8"/>
<text x="316.48" y="445.10" fill="#333" stroke="#333" font-size="7.6" text-anchor="middle" stroke-width="0.12">2</text>
<rect x="322.24" y="437.10" width="9.0" height="10.6" fill="#dfe9f6"/>
<text x="326.74" y="445.10" fill="#333" stroke="#333" font-size="7.6" text-anchor="middle" stroke-width="0.12">3</text>
<rect x="332.50" y="437.10" width="9.0" height="10.6" fill="#e2ecf8"/>
<text x="337.00" y="445.10" fill="#333" stroke="#333" font-size="7.6" text-anchor="middle" stroke-width="0.12">2</text>
<rect x="342.76" y="437.10" width="9.0" height="10.6" fill="#dfe9f6"/>
<text x="347.26" y="445.10" fill="#333" stroke="#333" font-size="7.6" text-anchor="middle" stroke-width="0.12">3</text>
<rect x="353.02" y="437.10" width="9.0" height="10.6" fill="#e6eef9"/>
<text x="357.52" y="445.10" fill="#333" stroke="#333" font-size="7.6" text-anchor="middle" stroke-width="0.12">1</text>
<rect x="363.28" y="437.10" width="9.0" height="10.6" fill="#ebebeb"/>
<rect x="373.54" y="437.10" width="9.0" height="10.6" fill="#ebebeb"/>
<rect x="383.80" y="437.10" width="9.0" height="10.6" fill="#ebebeb"/>
<rect x="394.06" y="437.10" width="9.0" height="10.6" fill="#ebebeb"/>
<rect x="404.32" y="437.10" width="9.0" height="10.6" fill="#ebebeb"/>
<rect x="414.58" y="437.10" width="9.0" height="10.6" fill="#ebebeb"/>
<rect x="424.84" y="437.10" width="9.0" height="10.6" fill="#ebebeb"/>
<rect x="76.00" y="449.10" width="9.0" height="10.6" fill="#dbe7f5"/>
<text x="80.50" y="457.10" fill="#333" stroke="#333" font-size="7.6" text-anchor="middle" stroke-width="0.12">5</text>
<rect x="86.26" y="449.10" width="9.0" height="10.6" fill="#e6eef9"/>
<text x="90.76" y="457.10" fill="#333" stroke="#333" font-size="7.6" text-anchor="middle" stroke-width="0.12">1</text>
<rect x="96.52" y="449.10" width="9.0" height="10.6" fill="#7db5da"/>
<text x="101.02" y="457.10" fill="#333" stroke="#333" font-size="7.6" text-anchor="middle" stroke-width="0.12">34</text>
<rect x="106.78" y="449.10" width="9.0" height="10.6" fill="#ebebeb"/>
<rect x="117.04" y="449.10" width="9.0" height="10.6" fill="#ebebeb"/>
<rect x="127.30" y="449.10" width="9.0" height="10.6" fill="#ebebeb"/>
<rect x="137.56" y="449.10" width="9.0" height="10.6" fill="#ebebeb"/>
<rect x="147.82" y="449.10" width="9.0" height="10.6" fill="#d8e6f4"/>
<text x="152.32" y="457.10" fill="#333" stroke="#333" font-size="7.6" text-anchor="middle" stroke-width="0.12">6</text>
<rect x="158.08" y="449.10" width="9.0" height="10.6" fill="#b0d1e9"/>
<text x="162.58" y="457.10" fill="#333" stroke="#333" font-size="7.6" text-anchor="middle" stroke-width="0.12">16</text>
<rect x="168.34" y="449.10" width="9.0" height="10.6" fill="#e6eef9"/>
<text x="172.84" y="457.10" fill="#333" stroke="#333" font-size="7.6" text-anchor="middle" stroke-width="0.12">1</text>
<rect x="178.60" y="449.10" width="9.0" height="10.6" fill="#e2ecf8"/>
<text x="183.10" y="457.10" fill="#333" stroke="#333" font-size="7.6" text-anchor="middle" stroke-width="0.12">2</text>
<rect x="188.86" y="449.10" width="9.0" height="10.6" fill="#e2ecf8"/>
<text x="193.36" y="457.10" fill="#333" stroke="#333" font-size="7.6" text-anchor="middle" stroke-width="0.12">2</text>
<rect x="199.12" y="449.10" width="9.0" height="10.6" fill="#ebebeb"/>
<rect x="209.38" y="449.10" width="9.0" height="10.6" fill="#ebebeb"/>
<rect x="219.64" y="449.10" width="9.0" height="10.6" fill="#dfe9f6"/>
<text x="224.14" y="457.10" fill="#333" stroke="#333" font-size="7.6" text-anchor="middle" stroke-width="0.12">3</text>
<rect x="229.90" y="449.10" width="9.0" height="10.6" fill="#ebebeb"/>
<rect x="240.16" y="449.10" width="9.0" height="10.6" fill="#ebebeb"/>
<rect x="250.42" y="449.10" width="9.0" height="10.6" fill="#ebebeb"/>
<rect x="260.68" y="449.10" width="9.0" height="10.6" fill="#ebebeb"/>
<rect x="270.94" y="449.10" width="9.0" height="10.6" fill="#ebebeb"/>
<rect x="281.20" y="449.10" width="9.0" height="10.6" fill="#ebebeb"/>
<rect x="291.46" y="449.10" width="9.0" height="10.6" fill="#ebebeb"/>
<rect x="301.72" y="449.10" width="9.0" height="10.6" fill="#e2ecf8"/>
<text x="306.22" y="457.10" fill="#333" stroke="#333" font-size="7.6" text-anchor="middle" stroke-width="0.12">2</text>
<rect x="311.98" y="449.10" width="9.0" height="10.6" fill="#e6eef9"/>
<text x="316.48" y="457.10" fill="#333" stroke="#333" font-size="7.6" text-anchor="middle" stroke-width="0.12">1</text>
<rect x="322.24" y="449.10" width="9.0" height="10.6" fill="#ebebeb"/>
<rect x="332.50" y="449.10" width="9.0" height="10.6" fill="#ebebeb"/>
<rect x="342.76" y="449.10" width="9.0" height="10.6" fill="#e6eef9"/>
<text x="347.26" y="457.10" fill="#333" stroke="#333" font-size="7.6" text-anchor="middle" stroke-width="0.12">1</text>
<rect x="353.02" y="449.10" width="9.0" height="10.6" fill="#ebebeb"/>
<rect x="363.28" y="449.10" width="9.0" height="10.6" fill="#ebebeb"/>
<rect x="373.54" y="449.10" width="9.0" height="10.6" fill="#ebebeb"/>
<rect x="383.80" y="449.10" width="9.0" height="10.6" fill="#e6eef9"/>
<text x="388.30" y="457.10" fill="#333" stroke="#333" font-size="7.6" text-anchor="middle" stroke-width="0.12">1</text>
<rect x="394.06" y="449.10" width="9.0" height="10.6" fill="#ebebeb"/>
<rect x="404.32" y="449.10" width="9.0" height="10.6" fill="#e6eef9"/>
<text x="408.82" y="457.10" fill="#333" stroke="#333" font-size="7.6" text-anchor="middle" stroke-width="0.12">1</text>
<rect x="414.58" y="449.10" width="9.0" height="10.6" fill="#e6eef9"/>
<text x="419.08" y="457.10" fill="#333" stroke="#333" font-size="7.6" text-anchor="middle" stroke-width="0.12">1</text>
<rect x="424.84" y="449.10" width="9.0" height="10.6" fill="#ebebeb"/>
<rect x="76.00" y="461.10" width="9.0" height="10.6" fill="#d5e4f4"/>
<text x="80.50" y="469.10" fill="#333" stroke="#333" font-size="7.6" text-anchor="middle" stroke-width="0.12">7</text>
<rect x="86.26" y="461.10" width="9.0" height="10.6" fill="#c9def1"/>
<text x="90.76" y="469.10" fill="#333" stroke="#333" font-size="7.6" text-anchor="middle" stroke-width="0.12">10</text>
<rect x="96.52" y="461.10" width="9.0" height="10.6" fill="#ebebeb"/>
<rect x="106.78" y="461.10" width="9.0" height="10.6" fill="#d8e6f4"/>
<text x="111.28" y="469.10" fill="#333" stroke="#333" font-size="7.6" text-anchor="middle" stroke-width="0.12">6</text>
<rect x="117.04" y="461.10" width="9.0" height="10.6" fill="#dbe7f5"/>
<text x="121.54" y="469.10" fill="#333" stroke="#333" font-size="7.6" text-anchor="middle" stroke-width="0.12">5</text>
<rect x="127.30" y="461.10" width="9.0" height="10.6" fill="#ebebeb"/>
<rect x="137.56" y="461.10" width="9.0" height="10.6" fill="#ebebeb"/>
<rect x="147.82" y="461.10" width="9.0" height="10.6" fill="#e2ecf8"/>
<text x="152.32" y="469.10" fill="#333" stroke="#333" font-size="7.6" text-anchor="middle" stroke-width="0.12">2</text>
<rect x="158.08" y="461.10" width="9.0" height="10.6" fill="#ebebeb"/>
<rect x="168.34" y="461.10" width="9.0" height="10.6" fill="#ebebeb"/>
<rect x="178.60" y="461.10" width="9.0" height="10.6" fill="#dfe9f6"/>
<text x="183.10" y="469.10" fill="#333" stroke="#333" font-size="7.6" text-anchor="middle" stroke-width="0.12">3</text>
<rect x="188.86" y="461.10" width="9.0" height="10.6" fill="#ebebeb"/>
<rect x="199.12" y="461.10" width="9.0" height="10.6" fill="#ebebeb"/>
<rect x="209.38" y="461.10" width="9.0" height="10.6" fill="#e6eef9"/>
<text x="213.88" y="469.10" fill="#333" stroke="#333" font-size="7.6" text-anchor="middle" stroke-width="0.12">1</text>
<rect x="219.64" y="461.10" width="9.0" height="10.6" fill="#bfd8ee"/>
<text x="224.14" y="469.10" fill="#333" stroke="#333" font-size="7.6" text-anchor="middle" stroke-width="0.12">12</text>
<rect x="229.90" y="461.10" width="9.0" height="10.6" fill="#ebebeb"/>
<rect x="240.16" y="461.10" width="9.0" height="10.6" fill="#ebebeb"/>
<rect x="250.42" y="461.10" width="9.0" height="10.6" fill="#e2ecf8"/>
<text x="254.92" y="469.10" fill="#333" stroke="#333" font-size="7.6" text-anchor="middle" stroke-width="0.12">2</text>
<rect x="260.68" y="461.10" width="9.0" height="10.6" fill="#ebebeb"/>
<rect x="270.94" y="461.10" width="9.0" height="10.6" fill="#e6eef9"/>
<text x="275.44" y="469.10" fill="#333" stroke="#333" font-size="7.6" text-anchor="middle" stroke-width="0.12">1</text>
<rect x="281.20" y="461.10" width="9.0" height="10.6" fill="#ebebeb"/>
<rect x="291.46" y="461.10" width="9.0" height="10.6" fill="#ebebeb"/>
<rect x="301.72" y="461.10" width="9.0" height="10.6" fill="#e6eef9"/>
<text x="306.22" y="469.10" fill="#333" stroke="#333" font-size="7.6" text-anchor="middle" stroke-width="0.12">1</text>
<rect x="311.98" y="461.10" width="9.0" height="10.6" fill="#e6eef9"/>
<text x="316.48" y="469.10" fill="#333" stroke="#333" font-size="7.6" text-anchor="middle" stroke-width="0.12">1</text>
<rect x="322.24" y="461.10" width="9.0" height="10.6" fill="#e6eef9"/>
<text x="326.74" y="469.10" fill="#333" stroke="#333" font-size="7.6" text-anchor="middle" stroke-width="0.12">1</text>
<rect x="332.50" y="461.10" width="9.0" height="10.6" fill="#ebebeb"/>
<rect x="342.76" y="461.10" width="9.0" height="10.6" fill="#ebebeb"/>
<rect x="353.02" y="461.10" width="9.0" height="10.6" fill="#ebebeb"/>
<rect x="363.28" y="461.10" width="9.0" height="10.6" fill="#ebebeb"/>
<rect x="373.54" y="461.10" width="9.0" height="10.6" fill="#ebebeb"/>
<rect x="383.80" y="461.10" width="9.0" height="10.6" fill="#e2ecf8"/>
<text x="388.30" y="469.10" fill="#333" stroke="#333" font-size="7.6" text-anchor="middle" stroke-width="0.12">2</text>
<rect x="394.06" y="461.10" width="9.0" height="10.6" fill="#ebebeb"/>
<rect x="404.32" y="461.10" width="9.0" height="10.6" fill="#ebebeb"/>
<rect x="414.58" y="461.10" width="9.0" height="10.6" fill="#ebebeb"/>
<rect x="424.84" y="461.10" width="9.0" height="10.6" fill="#e6eef9"/>
<text x="429.34" y="469.10" fill="#333" stroke="#333" font-size="7.6" text-anchor="middle" stroke-width="0.12">1</text>
<rect x="76.00" y="473.10" width="9.0" height="10.6" fill="#ebebeb"/>
<rect x="86.26" y="473.10" width="9.0" height="10.6" fill="#d5e4f4"/>
<text x="90.76" y="481.10" fill="#333" stroke="#333" font-size="7.6" text-anchor="middle" stroke-width="0.12">7</text>
<rect x="96.52" y="473.10" width="9.0" height="10.6" fill="#dfe9f6"/>
<text x="101.02" y="481.10" fill="#333" stroke="#333" font-size="7.6" text-anchor="middle" stroke-width="0.12">3</text>
<rect x="106.78" y="473.10" width="9.0" height="10.6" fill="#d2e2f4"/>
<text x="111.28" y="481.10" fill="#333" stroke="#333" font-size="7.6" text-anchor="middle" stroke-width="0.12">8</text>
<rect x="117.04" y="473.10" width="9.0" height="10.6" fill="#dde8f6"/>
<text x="121.54" y="481.10" fill="#333" stroke="#333" font-size="7.6" text-anchor="middle" stroke-width="0.12">4</text>
<rect x="127.30" y="473.10" width="9.0" height="10.6" fill="#e6eef9"/>
<text x="131.80" y="481.10" fill="#333" stroke="#333" font-size="7.6" text-anchor="middle" stroke-width="0.12">1</text>
<rect x="137.56" y="473.10" width="9.0" height="10.6" fill="#e6eef9"/>
<text x="142.06" y="481.10" fill="#333" stroke="#333" font-size="7.6" text-anchor="middle" stroke-width="0.12">1</text>
<rect x="147.82" y="473.10" width="9.0" height="10.6" fill="#dfe9f6"/>
<text x="152.32" y="481.10" fill="#333" stroke="#333" font-size="7.6" text-anchor="middle" stroke-width="0.12">3</text>
<rect x="158.08" y="473.10" width="9.0" height="10.6" fill="#e6eef9"/>
<text x="162.58" y="481.10" fill="#333" stroke="#333" font-size="7.6" text-anchor="middle" stroke-width="0.12">1</text>
<rect x="168.34" y="473.10" width="9.0" height="10.6" fill="#ebebeb"/>
<rect x="178.60" y="473.10" width="9.0" height="10.6" fill="#e6eef9"/>
<text x="183.10" y="481.10" fill="#333" stroke="#333" font-size="7.6" text-anchor="middle" stroke-width="0.12">1</text>
<rect x="188.86" y="473.10" width="9.0" height="10.6" fill="#dfe9f6"/>
<text x="193.36" y="481.10" fill="#333" stroke="#333" font-size="7.6" text-anchor="middle" stroke-width="0.12">3</text>
<rect x="199.12" y="473.10" width="9.0" height="10.6" fill="#ebebeb"/>
<rect x="209.38" y="473.10" width="9.0" height="10.6" fill="#ebebeb"/>
<rect x="219.64" y="473.10" width="9.0" height="10.6" fill="#ebebeb"/>
<rect x="229.90" y="473.10" width="9.0" height="10.6" fill="#ebebeb"/>
<rect x="240.16" y="473.10" width="9.0" height="10.6" fill="#ebebeb"/>
<rect x="250.42" y="473.10" width="9.0" height="10.6" fill="#e2ecf8"/>
<text x="254.92" y="481.10" fill="#333" stroke="#333" font-size="7.6" text-anchor="middle" stroke-width="0.12">2</text>
<rect x="260.68" y="473.10" width="9.0" height="10.6" fill="#e2ecf8"/>
<text x="265.18" y="481.10" fill="#333" stroke="#333" font-size="7.6" text-anchor="middle" stroke-width="0.12">2</text>
<rect x="270.94" y="473.10" width="9.0" height="10.6" fill="#ebebeb"/>
<rect x="281.20" y="473.10" width="9.0" height="10.6" fill="#ebebeb"/>
<rect x="291.46" y="473.10" width="9.0" height="10.6" fill="#ebebeb"/>
<rect x="301.72" y="473.10" width="9.0" height="10.6" fill="#e2ecf8"/>
<text x="306.22" y="481.10" fill="#333" stroke="#333" font-size="7.6" text-anchor="middle" stroke-width="0.12">2</text>
<rect x="311.98" y="473.10" width="9.0" height="10.6" fill="#dde8f6"/>
<text x="316.48" y="481.10" fill="#333" stroke="#333" font-size="7.6" text-anchor="middle" stroke-width="0.12">4</text>
<rect x="322.24" y="473.10" width="9.0" height="10.6" fill="#e6eef9"/>
<text x="326.74" y="481.10" fill="#333" stroke="#333" font-size="7.6" text-anchor="middle" stroke-width="0.12">1</text>
<rect x="332.50" y="473.10" width="9.0" height="10.6" fill="#ebebeb"/>
<rect x="342.76" y="473.10" width="9.0" height="10.6" fill="#e2ecf8"/>
<text x="347.26" y="481.10" fill="#333" stroke="#333" font-size="7.6" text-anchor="middle" stroke-width="0.12">2</text>
<rect x="353.02" y="473.10" width="9.0" height="10.6" fill="#ebebeb"/>
<rect x="363.28" y="473.10" width="9.0" height="10.6" fill="#e6eef9"/>
<text x="367.78" y="481.10" fill="#333" stroke="#333" font-size="7.6" text-anchor="middle" stroke-width="0.12">1</text>
<rect x="373.54" y="473.10" width="9.0" height="10.6" fill="#ebebeb"/>
<rect x="383.80" y="473.10" width="9.0" height="10.6" fill="#e6eef9"/>
<text x="388.30" y="481.10" fill="#333" stroke="#333" font-size="7.6" text-anchor="middle" stroke-width="0.12">1</text>
<rect x="394.06" y="473.10" width="9.0" height="10.6" fill="#ebebeb"/>
<rect x="404.32" y="473.10" width="9.0" height="10.6" fill="#ebebeb"/>
<rect x="414.58" y="473.10" width="9.0" height="10.6" fill="#ebebeb"/>
<rect x="424.84" y="473.10" width="9.0" height="10.6" fill="#ebebeb"/>
<rect x="76.00" y="485.10" width="9.0" height="10.6" fill="#a0cae3"/>
<text x="80.50" y="493.10" fill="#333" stroke="#333" font-size="7.6" text-anchor="middle" stroke-width="0.12">22</text>
<rect x="86.26" y="485.10" width="9.0" height="10.6" fill="#dfe9f6"/>
<text x="90.76" y="493.10" fill="#333" stroke="#333" font-size="7.6" text-anchor="middle" stroke-width="0.12">3</text>
<rect x="96.52" y="485.10" width="9.0" height="10.6" fill="#e2ecf8"/>
<text x="101.02" y="493.10" fill="#333" stroke="#333" font-size="7.6" text-anchor="middle" stroke-width="0.12">2</text>
<rect x="106.78" y="485.10" width="9.0" height="10.6" fill="#ebebeb"/>
<rect x="117.04" y="485.10" width="9.0" height="10.6" fill="#ebebeb"/>
<rect x="127.30" y="485.10" width="9.0" height="10.6" fill="#dfe9f6"/>
<text x="131.80" y="493.10" fill="#333" stroke="#333" font-size="7.6" text-anchor="middle" stroke-width="0.12">3</text>
<rect x="137.56" y="485.10" width="9.0" height="10.6" fill="#e6eef9"/>
<text x="142.06" y="493.10" fill="#333" stroke="#333" font-size="7.6" text-anchor="middle" stroke-width="0.12">1</text>
<rect x="147.82" y="485.10" width="9.0" height="10.6" fill="#e2ecf8"/>
<text x="152.32" y="493.10" fill="#333" stroke="#333" font-size="7.6" text-anchor="middle" stroke-width="0.12">2</text>
<rect x="158.08" y="485.10" width="9.0" height="10.6" fill="#e6eef9"/>
<text x="162.58" y="493.10" fill="#333" stroke="#333" font-size="7.6" text-anchor="middle" stroke-width="0.12">1</text>
<rect x="168.34" y="485.10" width="9.0" height="10.6" fill="#e6eef9"/>
<text x="172.84" y="493.10" fill="#333" stroke="#333" font-size="7.6" text-anchor="middle" stroke-width="0.12">1</text>
<rect x="178.60" y="485.10" width="9.0" height="10.6" fill="#e6eef9"/>
<text x="183.10" y="493.10" fill="#333" stroke="#333" font-size="7.6" text-anchor="middle" stroke-width="0.12">1</text>
<rect x="188.86" y="485.10" width="9.0" height="10.6" fill="#dde8f6"/>
<text x="193.36" y="493.10" fill="#333" stroke="#333" font-size="7.6" text-anchor="middle" stroke-width="0.12">4</text>
<rect x="199.12" y="485.10" width="9.0" height="10.6" fill="#ebebeb"/>
<rect x="209.38" y="485.10" width="9.0" height="10.6" fill="#ebebeb"/>
<rect x="219.64" y="485.10" width="9.0" height="10.6" fill="#e2ecf8"/>
<text x="224.14" y="493.10" fill="#333" stroke="#333" font-size="7.6" text-anchor="middle" stroke-width="0.12">2</text>
<rect x="229.90" y="485.10" width="9.0" height="10.6" fill="#ebebeb"/>
<rect x="240.16" y="485.10" width="9.0" height="10.6" fill="#ebebeb"/>
<rect x="250.42" y="485.10" width="9.0" height="10.6" fill="#ebebeb"/>
<rect x="260.68" y="485.10" width="9.0" height="10.6" fill="#ebebeb"/>
<rect x="270.94" y="485.10" width="9.0" height="10.6" fill="#e6eef9"/>
<text x="275.44" y="493.10" fill="#333" stroke="#333" font-size="7.6" text-anchor="middle" stroke-width="0.12">1</text>
<rect x="281.20" y="485.10" width="9.0" height="10.6" fill="#ebebeb"/>
<rect x="291.46" y="485.10" width="9.0" height="10.6" fill="#ebebeb"/>
<rect x="301.72" y="485.10" width="9.0" height="10.6" fill="#ebebeb"/>
<rect x="311.98" y="485.10" width="9.0" height="10.6" fill="#ebebeb"/>
<rect x="322.24" y="485.10" width="9.0" height="10.6" fill="#ebebeb"/>
<rect x="332.50" y="485.10" width="9.0" height="10.6" fill="#ebebeb"/>
<rect x="342.76" y="485.10" width="9.0" height="10.6" fill="#ebebeb"/>
<rect x="353.02" y="485.10" width="9.0" height="10.6" fill="#e6eef9"/>
<text x="357.52" y="493.10" fill="#333" stroke="#333" font-size="7.6" text-anchor="middle" stroke-width="0.12">1</text>
<rect x="363.28" y="485.10" width="9.0" height="10.6" fill="#ebebeb"/>
<rect x="373.54" y="485.10" width="9.0" height="10.6" fill="#ebebeb"/>
<rect x="383.80" y="485.10" width="9.0" height="10.6" fill="#ebebeb"/>
<rect x="394.06" y="485.10" width="9.0" height="10.6" fill="#ebebeb"/>
<rect x="404.32" y="485.10" width="9.0" height="10.6" fill="#ebebeb"/>
<rect x="414.58" y="485.10" width="9.0" height="10.6" fill="#ebebeb"/>
<rect x="424.84" y="485.10" width="9.0" height="10.6" fill="#e6eef9"/>
<text x="429.34" y="493.10" fill="#333" stroke="#333" font-size="7.6" text-anchor="middle" stroke-width="0.12">1</text>
<rect x="76.00" y="497.10" width="9.0" height="10.6" fill="#ebebeb"/>
<rect x="86.26" y="497.10" width="9.0" height="10.6" fill="#d5e4f4"/>
<text x="90.76" y="505.10" fill="#333" stroke="#333" font-size="7.6" text-anchor="middle" stroke-width="0.12">7</text>
<rect x="96.52" y="497.10" width="9.0" height="10.6" fill="#dfe9f6"/>
<text x="101.02" y="505.10" fill="#333" stroke="#333" font-size="7.6" text-anchor="middle" stroke-width="0.12">3</text>
<rect x="106.78" y="497.10" width="9.0" height="10.6" fill="#dde8f6"/>
<text x="111.28" y="505.10" fill="#333" stroke="#333" font-size="7.6" text-anchor="middle" stroke-width="0.12">4</text>
<rect x="117.04" y="497.10" width="9.0" height="10.6" fill="#d8e6f4"/>
<text x="121.54" y="505.10" fill="#333" stroke="#333" font-size="7.6" text-anchor="middle" stroke-width="0.12">6</text>
<rect x="127.30" y="497.10" width="9.0" height="10.6" fill="#dde8f6"/>
<text x="131.80" y="505.10" fill="#333" stroke="#333" font-size="7.6" text-anchor="middle" stroke-width="0.12">4</text>
<rect x="137.56" y="497.10" width="9.0" height="10.6" fill="#ebebeb"/>
<rect x="147.82" y="497.10" width="9.0" height="10.6" fill="#ebebeb"/>
<rect x="158.08" y="497.10" width="9.0" height="10.6" fill="#ebebeb"/>
<rect x="168.34" y="497.10" width="9.0" height="10.6" fill="#e2ecf8"/>
<text x="172.84" y="505.10" fill="#333" stroke="#333" font-size="7.6" text-anchor="middle" stroke-width="0.12">2</text>
<rect x="178.60" y="497.10" width="9.0" height="10.6" fill="#e2ecf8"/>
<text x="183.10" y="505.10" fill="#333" stroke="#333" font-size="7.6" text-anchor="middle" stroke-width="0.12">2</text>
<rect x="188.86" y="497.10" width="9.0" height="10.6" fill="#dbe7f5"/>
<text x="193.36" y="505.10" fill="#333" stroke="#333" font-size="7.6" text-anchor="middle" stroke-width="0.12">5</text>
<rect x="199.12" y="497.10" width="9.0" height="10.6" fill="#ebebeb"/>
<rect x="209.38" y="497.10" width="9.0" height="10.6" fill="#e6eef9"/>
<text x="213.88" y="505.10" fill="#333" stroke="#333" font-size="7.6" text-anchor="middle" stroke-width="0.12">1</text>
<rect x="219.64" y="497.10" width="9.0" height="10.6" fill="#e2ecf8"/>
<text x="224.14" y="505.10" fill="#333" stroke="#333" font-size="7.6" text-anchor="middle" stroke-width="0.12">2</text>
<rect x="229.90" y="497.10" width="9.0" height="10.6" fill="#ebebeb"/>
<rect x="240.16" y="497.10" width="9.0" height="10.6" fill="#ebebeb"/>
<rect x="250.42" y="497.10" width="9.0" height="10.6" fill="#ebebeb"/>
<rect x="260.68" y="497.10" width="9.0" height="10.6" fill="#ebebeb"/>
<rect x="270.94" y="497.10" width="9.0" height="10.6" fill="#e2ecf8"/>
<text x="275.44" y="505.10" fill="#333" stroke="#333" font-size="7.6" text-anchor="middle" stroke-width="0.12">2</text>
<rect x="281.20" y="497.10" width="9.0" height="10.6" fill="#ebebeb"/>
<rect x="291.46" y="497.10" width="9.0" height="10.6" fill="#ebebeb"/>
<rect x="301.72" y="497.10" width="9.0" height="10.6" fill="#ebebeb"/>
<rect x="311.98" y="497.10" width="9.0" height="10.6" fill="#ebebeb"/>
<rect x="322.24" y="497.10" width="9.0" height="10.6" fill="#e6eef9"/>
<text x="326.74" y="505.10" fill="#333" stroke="#333" font-size="7.6" text-anchor="middle" stroke-width="0.12">1</text>
<rect x="332.50" y="497.10" width="9.0" height="10.6" fill="#ebebeb"/>
<rect x="342.76" y="497.10" width="9.0" height="10.6" fill="#ebebeb"/>
<rect x="353.02" y="497.10" width="9.0" height="10.6" fill="#dde8f6"/>
<text x="357.52" y="505.10" fill="#333" stroke="#333" font-size="7.6" text-anchor="middle" stroke-width="0.12">4</text>
<rect x="363.28" y="497.10" width="9.0" height="10.6" fill="#ebebeb"/>
<rect x="373.54" y="497.10" width="9.0" height="10.6" fill="#ebebeb"/>
<rect x="383.80" y="497.10" width="9.0" height="10.6" fill="#ebebeb"/>
<rect x="394.06" y="497.10" width="9.0" height="10.6" fill="#ebebeb"/>
<rect x="404.32" y="497.10" width="9.0" height="10.6" fill="#ebebeb"/>
<rect x="414.58" y="497.10" width="9.0" height="10.6" fill="#ebebeb"/>
<rect x="424.84" y="497.10" width="9.0" height="10.6" fill="#e6eef9"/>
<text x="429.34" y="505.10" fill="#333" stroke="#333" font-size="7.6" text-anchor="middle" stroke-width="0.12">1</text>
<rect x="76.00" y="509.10" width="9.0" height="10.6" fill="#ebebeb"/>
<rect x="86.26" y="509.10" width="9.0" height="10.6" fill="#dde8f6"/>
<text x="90.76" y="517.10" fill="#333" stroke="#333" font-size="7.6" text-anchor="middle" stroke-width="0.12">4</text>
<rect x="96.52" y="509.10" width="9.0" height="10.6" fill="#c9def1"/>
<text x="101.02" y="517.10" fill="#333" stroke="#333" font-size="7.6" text-anchor="middle" stroke-width="0.12">10</text>
<rect x="106.78" y="509.10" width="9.0" height="10.6" fill="#ebebeb"/>
<rect x="117.04" y="509.10" width="9.0" height="10.6" fill="#dde8f6"/>
<text x="121.54" y="517.10" fill="#333" stroke="#333" font-size="7.6" text-anchor="middle" stroke-width="0.12">4</text>
<rect x="127.30" y="509.10" width="9.0" height="10.6" fill="#dfe9f6"/>
<text x="131.80" y="517.10" fill="#333" stroke="#333" font-size="7.6" text-anchor="middle" stroke-width="0.12">3</text>
<rect x="137.56" y="509.10" width="9.0" height="10.6" fill="#e6eef9"/>
<text x="142.06" y="517.10" fill="#333" stroke="#333" font-size="7.6" text-anchor="middle" stroke-width="0.12">1</text>
<rect x="147.82" y="509.10" width="9.0" height="10.6" fill="#ebebeb"/>
<rect x="158.08" y="509.10" width="9.0" height="10.6" fill="#ebebeb"/>
<rect x="168.34" y="509.10" width="9.0" height="10.6" fill="#ebebeb"/>
<rect x="178.60" y="509.10" width="9.0" height="10.6" fill="#e6eef9"/>
<text x="183.10" y="517.10" fill="#333" stroke="#333" font-size="7.6" text-anchor="middle" stroke-width="0.12">1</text>
<rect x="188.86" y="509.10" width="9.0" height="10.6" fill="#e6eef9"/>
<text x="193.36" y="517.10" fill="#333" stroke="#333" font-size="7.6" text-anchor="middle" stroke-width="0.12">1</text>
<rect x="199.12" y="509.10" width="9.0" height="10.6" fill="#ebebeb"/>
<rect x="209.38" y="509.10" width="9.0" height="10.6" fill="#dfe9f6"/>
<text x="213.88" y="517.10" fill="#333" stroke="#333" font-size="7.6" text-anchor="middle" stroke-width="0.12">3</text>
<rect x="219.64" y="509.10" width="9.0" height="10.6" fill="#e6eef9"/>
<text x="224.14" y="517.10" fill="#333" stroke="#333" font-size="7.6" text-anchor="middle" stroke-width="0.12">1</text>
<rect x="229.90" y="509.10" width="9.0" height="10.6" fill="#dde8f6"/>
<text x="234.40" y="517.10" fill="#333" stroke="#333" font-size="7.6" text-anchor="middle" stroke-width="0.12">4</text>
<rect x="240.16" y="509.10" width="9.0" height="10.6" fill="#dde8f6"/>
<text x="244.66" y="517.10" fill="#333" stroke="#333" font-size="7.6" text-anchor="middle" stroke-width="0.12">4</text>
<rect x="250.42" y="509.10" width="9.0" height="10.6" fill="#ebebeb"/>
<rect x="260.68" y="509.10" width="9.0" height="10.6" fill="#e2ecf8"/>
<text x="265.18" y="517.10" fill="#333" stroke="#333" font-size="7.6" text-anchor="middle" stroke-width="0.12">2</text>
<rect x="270.94" y="509.10" width="9.0" height="10.6" fill="#ebebeb"/>
<rect x="281.20" y="509.10" width="9.0" height="10.6" fill="#ebebeb"/>
<rect x="291.46" y="509.10" width="9.0" height="10.6" fill="#ebebeb"/>
<rect x="301.72" y="509.10" width="9.0" height="10.6" fill="#ebebeb"/>
<rect x="311.98" y="509.10" width="9.0" height="10.6" fill="#ebebeb"/>
<rect x="322.24" y="509.10" width="9.0" height="10.6" fill="#ebebeb"/>
<rect x="332.50" y="509.10" width="9.0" height="10.6" fill="#e6eef9"/>
<text x="337.00" y="517.10" fill="#333" stroke="#333" font-size="7.6" text-anchor="middle" stroke-width="0.12">1</text>
<rect x="342.76" y="509.10" width="9.0" height="10.6" fill="#ebebeb"/>
<rect x="353.02" y="509.10" width="9.0" height="10.6" fill="#ebebeb"/>
<rect x="363.28" y="509.10" width="9.0" height="10.6" fill="#ebebeb"/>
<rect x="373.54" y="509.10" width="9.0" height="10.6" fill="#ebebeb"/>
<rect x="383.80" y="509.10" width="9.0" height="10.6" fill="#ebebeb"/>
<rect x="394.06" y="509.10" width="9.0" height="10.6" fill="#ebebeb"/>
<rect x="404.32" y="509.10" width="9.0" height="10.6" fill="#ebebeb"/>
<rect x="414.58" y="509.10" width="9.0" height="10.6" fill="#ebebeb"/>
<rect x="424.84" y="509.10" width="9.0" height="10.6" fill="#ebebeb"/>
<rect x="76.00" y="521.10" width="9.0" height="10.6" fill="#dfe9f6"/>
<text x="80.50" y="529.10" fill="#333" stroke="#333" font-size="7.6" text-anchor="middle" stroke-width="0.12">3</text>
<rect x="86.26" y="521.10" width="9.0" height="10.6" fill="#ebebeb"/>
<rect x="96.52" y="521.10" width="9.0" height="10.6" fill="#c3daef"/>
<text x="101.02" y="529.10" fill="#333" stroke="#333" font-size="7.6" text-anchor="middle" stroke-width="0.12">11</text>
<rect x="106.78" y="521.10" width="9.0" height="10.6" fill="#dbe7f5"/>
<text x="111.28" y="529.10" fill="#333" stroke="#333" font-size="7.6" text-anchor="middle" stroke-width="0.12">5</text>
<rect x="117.04" y="521.10" width="9.0" height="10.6" fill="#e6eef9"/>
<text x="121.54" y="529.10" fill="#333" stroke="#333" font-size="7.6" text-anchor="middle" stroke-width="0.12">1</text>
<rect x="127.30" y="521.10" width="9.0" height="10.6" fill="#dde8f6"/>
<text x="131.80" y="529.10" fill="#333" stroke="#333" font-size="7.6" text-anchor="middle" stroke-width="0.12">4</text>
<rect x="137.56" y="521.10" width="9.0" height="10.6" fill="#ebebeb"/>
<rect x="147.82" y="521.10" width="9.0" height="10.6" fill="#e6eef9"/>
<text x="152.32" y="529.10" fill="#333" stroke="#333" font-size="7.6" text-anchor="middle" stroke-width="0.12">1</text>
<rect x="158.08" y="521.10" width="9.0" height="10.6" fill="#e6eef9"/>
<text x="162.58" y="529.10" fill="#333" stroke="#333" font-size="7.6" text-anchor="middle" stroke-width="0.12">1</text>
<rect x="168.34" y="521.10" width="9.0" height="10.6" fill="#ebebeb"/>
<rect x="178.60" y="521.10" width="9.0" height="10.6" fill="#ebebeb"/>
<rect x="188.86" y="521.10" width="9.0" height="10.6" fill="#dde8f6"/>
<text x="193.36" y="529.10" fill="#333" stroke="#333" font-size="7.6" text-anchor="middle" stroke-width="0.12">4</text>
<rect x="199.12" y="521.10" width="9.0" height="10.6" fill="#ebebeb"/>
<rect x="209.38" y="521.10" width="9.0" height="10.6" fill="#ebebeb"/>
<rect x="219.64" y="521.10" width="9.0" height="10.6" fill="#e6eef9"/>
<text x="224.14" y="529.10" fill="#333" stroke="#333" font-size="7.6" text-anchor="middle" stroke-width="0.12">1</text>
<rect x="229.90" y="521.10" width="9.0" height="10.6" fill="#ebebeb"/>
<rect x="240.16" y="521.10" width="9.0" height="10.6" fill="#dbe7f5"/>
<text x="244.66" y="529.10" fill="#333" stroke="#333" font-size="7.6" text-anchor="middle" stroke-width="0.12">5</text>
<rect x="250.42" y="521.10" width="9.0" height="10.6" fill="#ebebeb"/>
<rect x="260.68" y="521.10" width="9.0" height="10.6" fill="#ebebeb"/>
<rect x="270.94" y="521.10" width="9.0" height="10.6" fill="#ebebeb"/>
<rect x="281.20" y="521.10" width="9.0" height="10.6" fill="#ebebeb"/>
<rect x="291.46" y="521.10" width="9.0" height="10.6" fill="#e2ecf8"/>
<text x="295.96" y="529.10" fill="#333" stroke="#333" font-size="7.6" text-anchor="middle" stroke-width="0.12">2</text>
<rect x="301.72" y="521.10" width="9.0" height="10.6" fill="#ebebeb"/>
<rect x="311.98" y="521.10" width="9.0" height="10.6" fill="#ebebeb"/>
<rect x="322.24" y="521.10" width="9.0" height="10.6" fill="#ebebeb"/>
<rect x="332.50" y="521.10" width="9.0" height="10.6" fill="#ebebeb"/>
<rect x="342.76" y="521.10" width="9.0" height="10.6" fill="#ebebeb"/>
<rect x="353.02" y="521.10" width="9.0" height="10.6" fill="#ebebeb"/>
<rect x="363.28" y="521.10" width="9.0" height="10.6" fill="#ebebeb"/>
<rect x="373.54" y="521.10" width="9.0" height="10.6" fill="#ebebeb"/>
<rect x="383.80" y="521.10" width="9.0" height="10.6" fill="#ebebeb"/>
<rect x="394.06" y="521.10" width="9.0" height="10.6" fill="#ebebeb"/>
<rect x="404.32" y="521.10" width="9.0" height="10.6" fill="#e6eef9"/>
<text x="408.82" y="529.10" fill="#333" stroke="#333" font-size="7.6" text-anchor="middle" stroke-width="0.12">1</text>
<rect x="414.58" y="521.10" width="9.0" height="10.6" fill="#ebebeb"/>
<rect x="424.84" y="521.10" width="9.0" height="10.6" fill="#ebebeb"/>
<rect x="76.00" y="533.10" width="9.0" height="10.6" fill="#dfe9f6"/>
<text x="80.50" y="541.10" fill="#333" stroke="#333" font-size="7.6" text-anchor="middle" stroke-width="0.12">3</text>
<rect x="86.26" y="533.10" width="9.0" height="10.6" fill="#ebebeb"/>
<rect x="96.52" y="533.10" width="9.0" height="10.6" fill="#ebebeb"/>
<rect x="106.78" y="533.10" width="9.0" height="10.6" fill="#e2ecf8"/>
<text x="111.28" y="541.10" fill="#333" stroke="#333" font-size="7.6" text-anchor="middle" stroke-width="0.12">2</text>
<rect x="117.04" y="533.10" width="9.0" height="10.6" fill="#d8e6f4"/>
<text x="121.54" y="541.10" fill="#333" stroke="#333" font-size="7.6" text-anchor="middle" stroke-width="0.12">6</text>
<rect x="127.30" y="533.10" width="9.0" height="10.6" fill="#ebebeb"/>
<rect x="137.56" y="533.10" width="9.0" height="10.6" fill="#ebebeb"/>
<rect x="147.82" y="533.10" width="9.0" height="10.6" fill="#d2e2f4"/>
<text x="152.32" y="541.10" fill="#333" stroke="#333" font-size="7.6" text-anchor="middle" stroke-width="0.12">8</text>
<rect x="158.08" y="533.10" width="9.0" height="10.6" fill="#e6eef9"/>
<text x="162.58" y="541.10" fill="#333" stroke="#333" font-size="7.6" text-anchor="middle" stroke-width="0.12">1</text>
<rect x="168.34" y="533.10" width="9.0" height="10.6" fill="#e2ecf8"/>
<text x="172.84" y="541.10" fill="#333" stroke="#333" font-size="7.6" text-anchor="middle" stroke-width="0.12">2</text>
<rect x="178.60" y="533.10" width="9.0" height="10.6" fill="#e2ecf8"/>
<text x="183.10" y="541.10" fill="#333" stroke="#333" font-size="7.6" text-anchor="middle" stroke-width="0.12">2</text>
<rect x="188.86" y="533.10" width="9.0" height="10.6" fill="#e6eef9"/>
<text x="193.36" y="541.10" fill="#333" stroke="#333" font-size="7.6" text-anchor="middle" stroke-width="0.12">1</text>
<rect x="199.12" y="533.10" width="9.0" height="10.6" fill="#ebebeb"/>
<rect x="209.38" y="533.10" width="9.0" height="10.6" fill="#ebebeb"/>
<rect x="219.64" y="533.10" width="9.0" height="10.6" fill="#e6eef9"/>
<text x="224.14" y="541.10" fill="#333" stroke="#333" font-size="7.6" text-anchor="middle" stroke-width="0.12">1</text>
<rect x="229.90" y="533.10" width="9.0" height="10.6" fill="#ebebeb"/>
<rect x="240.16" y="533.10" width="9.0" height="10.6" fill="#e6eef9"/>
<text x="244.66" y="541.10" fill="#333" stroke="#333" font-size="7.6" text-anchor="middle" stroke-width="0.12">1</text>
<rect x="250.42" y="533.10" width="9.0" height="10.6" fill="#ebebeb"/>
<rect x="260.68" y="533.10" width="9.0" height="10.6" fill="#ebebeb"/>
<rect x="270.94" y="533.10" width="9.0" height="10.6" fill="#e6eef9"/>
<text x="275.44" y="541.10" fill="#333" stroke="#333" font-size="7.6" text-anchor="middle" stroke-width="0.12">1</text>
<rect x="281.20" y="533.10" width="9.0" height="10.6" fill="#e6eef9"/>
<text x="285.70" y="541.10" fill="#333" stroke="#333" font-size="7.6" text-anchor="middle" stroke-width="0.12">1</text>
<rect x="291.46" y="533.10" width="9.0" height="10.6" fill="#ebebeb"/>
<rect x="301.72" y="533.10" width="9.0" height="10.6" fill="#dfe9f6"/>
<text x="306.22" y="541.10" fill="#333" stroke="#333" font-size="7.6" text-anchor="middle" stroke-width="0.12">3</text>
<rect x="311.98" y="533.10" width="9.0" height="10.6" fill="#ebebeb"/>
<rect x="322.24" y="533.10" width="9.0" height="10.6" fill="#ebebeb"/>
<rect x="332.50" y="533.10" width="9.0" height="10.6" fill="#ebebeb"/>
<rect x="342.76" y="533.10" width="9.0" height="10.6" fill="#ebebeb"/>
<rect x="353.02" y="533.10" width="9.0" height="10.6" fill="#ebebeb"/>
<rect x="363.28" y="533.10" width="9.0" height="10.6" fill="#ebebeb"/>
<rect x="373.54" y="533.10" width="9.0" height="10.6" fill="#ebebeb"/>
<rect x="383.80" y="533.10" width="9.0" height="10.6" fill="#e6eef9"/>
<text x="388.30" y="541.10" fill="#333" stroke="#333" font-size="7.6" text-anchor="middle" stroke-width="0.12">1</text>
<rect x="394.06" y="533.10" width="9.0" height="10.6" fill="#ebebeb"/>
<rect x="404.32" y="533.10" width="9.0" height="10.6" fill="#ebebeb"/>
<rect x="414.58" y="533.10" width="9.0" height="10.6" fill="#e6eef9"/>
<text x="419.08" y="541.10" fill="#333" stroke="#333" font-size="7.6" text-anchor="middle" stroke-width="0.12">1</text>
<rect x="424.84" y="533.10" width="9.0" height="10.6" fill="#ebebeb"/>
<rect x="76.00" y="545.10" width="9.0" height="10.6" fill="#dde8f6"/>
<text x="80.50" y="553.10" fill="#333" stroke="#333" font-size="7.6" text-anchor="middle" stroke-width="0.12">4</text>
<rect x="86.26" y="545.10" width="9.0" height="10.6" fill="#dbe7f5"/>
<text x="90.76" y="553.10" fill="#333" stroke="#333" font-size="7.6" text-anchor="middle" stroke-width="0.12">5</text>
<rect x="96.52" y="545.10" width="9.0" height="10.6" fill="#d2e2f4"/>
<text x="101.02" y="553.10" fill="#333" stroke="#333" font-size="7.6" text-anchor="middle" stroke-width="0.12">8</text>
<rect x="106.78" y="545.10" width="9.0" height="10.6" fill="#ebebeb"/>
<rect x="117.04" y="545.10" width="9.0" height="10.6" fill="#d8e6f4"/>
<text x="121.54" y="553.10" fill="#333" stroke="#333" font-size="7.6" text-anchor="middle" stroke-width="0.12">6</text>
<rect x="127.30" y="545.10" width="9.0" height="10.6" fill="#ebebeb"/>
<rect x="137.56" y="545.10" width="9.0" height="10.6" fill="#dfe9f6"/>
<text x="142.06" y="553.10" fill="#333" stroke="#333" font-size="7.6" text-anchor="middle" stroke-width="0.12">3</text>
<rect x="147.82" y="545.10" width="9.0" height="10.6" fill="#ebebeb"/>
<rect x="158.08" y="545.10" width="9.0" height="10.6" fill="#ebebeb"/>
<rect x="168.34" y="545.10" width="9.0" height="10.6" fill="#ebebeb"/>
<rect x="178.60" y="545.10" width="9.0" height="10.6" fill="#e2ecf8"/>
<text x="183.10" y="553.10" fill="#333" stroke="#333" font-size="7.6" text-anchor="middle" stroke-width="0.12">2</text>
<rect x="188.86" y="545.10" width="9.0" height="10.6" fill="#e2ecf8"/>
<text x="193.36" y="553.10" fill="#333" stroke="#333" font-size="7.6" text-anchor="middle" stroke-width="0.12">2</text>
<rect x="199.12" y="545.10" width="9.0" height="10.6" fill="#e6eef9"/>
<text x="203.62" y="553.10" fill="#333" stroke="#333" font-size="7.6" text-anchor="middle" stroke-width="0.12">1</text>
<rect x="209.38" y="545.10" width="9.0" height="10.6" fill="#ebebeb"/>
<rect x="219.64" y="545.10" width="9.0" height="10.6" fill="#ebebeb"/>
<rect x="229.90" y="545.10" width="9.0" height="10.6" fill="#ebebeb"/>
<rect x="240.16" y="545.10" width="9.0" height="10.6" fill="#ebebeb"/>
<rect x="250.42" y="545.10" width="9.0" height="10.6" fill="#ebebeb"/>
<rect x="260.68" y="545.10" width="9.0" height="10.6" fill="#e6eef9"/>
<text x="265.18" y="553.10" fill="#333" stroke="#333" font-size="7.6" text-anchor="middle" stroke-width="0.12">1</text>
<rect x="270.94" y="545.10" width="9.0" height="10.6" fill="#ebebeb"/>
<rect x="281.20" y="545.10" width="9.0" height="10.6" fill="#ebebeb"/>
<rect x="291.46" y="545.10" width="9.0" height="10.6" fill="#ebebeb"/>
<rect x="301.72" y="545.10" width="9.0" height="10.6" fill="#ebebeb"/>
<rect x="311.98" y="545.10" width="9.0" height="10.6" fill="#ebebeb"/>
<rect x="322.24" y="545.10" width="9.0" height="10.6" fill="#ebebeb"/>
<rect x="332.50" y="545.10" width="9.0" height="10.6" fill="#ebebeb"/>
<rect x="342.76" y="545.10" width="9.0" height="10.6" fill="#e6eef9"/>
<text x="347.26" y="553.10" fill="#333" stroke="#333" font-size="7.6" text-anchor="middle" stroke-width="0.12">1</text>
<rect x="353.02" y="545.10" width="9.0" height="10.6" fill="#ebebeb"/>
<rect x="363.28" y="545.10" width="9.0" height="10.6" fill="#ebebeb"/>
<rect x="373.54" y="545.10" width="9.0" height="10.6" fill="#ebebeb"/>
<rect x="383.80" y="545.10" width="9.0" height="10.6" fill="#ebebeb"/>
<rect x="394.06" y="545.10" width="9.0" height="10.6" fill="#ebebeb"/>
<rect x="404.32" y="545.10" width="9.0" height="10.6" fill="#ebebeb"/>
<rect x="414.58" y="545.10" width="9.0" height="10.6" fill="#ebebeb"/>
<rect x="424.84" y="545.10" width="9.0" height="10.6" fill="#ebebeb"/>
<rect x="76.00" y="557.10" width="9.0" height="10.6" fill="#e6eef9"/>
<text x="80.50" y="565.10" fill="#333" stroke="#333" font-size="7.6" text-anchor="middle" stroke-width="0.12">1</text>
<rect x="86.26" y="557.10" width="9.0" height="10.6" fill="#ebebeb"/>
<rect x="96.52" y="557.10" width="9.0" height="10.6" fill="#ebebeb"/>
<rect x="106.78" y="557.10" width="9.0" height="10.6" fill="#b3d2ea"/>
<text x="111.28" y="565.10" fill="#333" stroke="#333" font-size="7.6" text-anchor="middle" stroke-width="0.12">15</text>
<rect x="117.04" y="557.10" width="9.0" height="10.6" fill="#ebebeb"/>
<rect x="127.30" y="557.10" width="9.0" height="10.6" fill="#e2ecf8"/>
<text x="131.80" y="565.10" fill="#333" stroke="#333" font-size="7.6" text-anchor="middle" stroke-width="0.12">2</text>
<rect x="137.56" y="557.10" width="9.0" height="10.6" fill="#e6eef9"/>
<text x="142.06" y="565.10" fill="#333" stroke="#333" font-size="7.6" text-anchor="middle" stroke-width="0.12">1</text>
<rect x="147.82" y="557.10" width="9.0" height="10.6" fill="#ebebeb"/>
<rect x="158.08" y="557.10" width="9.0" height="10.6" fill="#ebebeb"/>
<rect x="168.34" y="557.10" width="9.0" height="10.6" fill="#ebebeb"/>
<rect x="178.60" y="557.10" width="9.0" height="10.6" fill="#e6eef9"/>
<text x="183.10" y="565.10" fill="#333" stroke="#333" font-size="7.6" text-anchor="middle" stroke-width="0.12">1</text>
<rect x="188.86" y="557.10" width="9.0" height="10.6" fill="#e6eef9"/>
<text x="193.36" y="565.10" fill="#333" stroke="#333" font-size="7.6" text-anchor="middle" stroke-width="0.12">1</text>
<rect x="199.12" y="557.10" width="9.0" height="10.6" fill="#ebebeb"/>
<rect x="209.38" y="557.10" width="9.0" height="10.6" fill="#ebebeb"/>
<rect x="219.64" y="557.10" width="9.0" height="10.6" fill="#ebebeb"/>
<rect x="229.90" y="557.10" width="9.0" height="10.6" fill="#ebebeb"/>
<rect x="240.16" y="557.10" width="9.0" height="10.6" fill="#e6eef9"/>
<text x="244.66" y="565.10" fill="#333" stroke="#333" font-size="7.6" text-anchor="middle" stroke-width="0.12">1</text>
<rect x="250.42" y="557.10" width="9.0" height="10.6" fill="#dbe7f5"/>
<text x="254.92" y="565.10" fill="#333" stroke="#333" font-size="7.6" text-anchor="middle" stroke-width="0.12">5</text>
<rect x="260.68" y="557.10" width="9.0" height="10.6" fill="#ebebeb"/>
<rect x="270.94" y="557.10" width="9.0" height="10.6" fill="#e6eef9"/>
<text x="275.44" y="565.10" fill="#333" stroke="#333" font-size="7.6" text-anchor="middle" stroke-width="0.12">1</text>
<rect x="281.20" y="557.10" width="9.0" height="10.6" fill="#ebebeb"/>
<rect x="291.46" y="557.10" width="9.0" height="10.6" fill="#e6eef9"/>
<text x="295.96" y="565.10" fill="#333" stroke="#333" font-size="7.6" text-anchor="middle" stroke-width="0.12">1</text>
<rect x="301.72" y="557.10" width="9.0" height="10.6" fill="#ebebeb"/>
<rect x="311.98" y="557.10" width="9.0" height="10.6" fill="#e6eef9"/>
<text x="316.48" y="565.10" fill="#333" stroke="#333" font-size="7.6" text-anchor="middle" stroke-width="0.12">1</text>
<rect x="322.24" y="557.10" width="9.0" height="10.6" fill="#ebebeb"/>
<rect x="332.50" y="557.10" width="9.0" height="10.6" fill="#ebebeb"/>
<rect x="342.76" y="557.10" width="9.0" height="10.6" fill="#e6eef9"/>
<text x="347.26" y="565.10" fill="#333" stroke="#333" font-size="7.6" text-anchor="middle" stroke-width="0.12">1</text>
<rect x="353.02" y="557.10" width="9.0" height="10.6" fill="#e6eef9"/>
<text x="357.52" y="565.10" fill="#333" stroke="#333" font-size="7.6" text-anchor="middle" stroke-width="0.12">1</text>
<rect x="363.28" y="557.10" width="9.0" height="10.6" fill="#ebebeb"/>
<rect x="373.54" y="557.10" width="9.0" height="10.6" fill="#ebebeb"/>
<rect x="383.80" y="557.10" width="9.0" height="10.6" fill="#ebebeb"/>
<rect x="394.06" y="557.10" width="9.0" height="10.6" fill="#ebebeb"/>
<rect x="404.32" y="557.10" width="9.0" height="10.6" fill="#ebebeb"/>
<rect x="414.58" y="557.10" width="9.0" height="10.6" fill="#ebebeb"/>
<rect x="424.84" y="557.10" width="9.0" height="10.6" fill="#ebebeb"/>
<rect x="76.00" y="569.10" width="9.0" height="10.6" fill="#e6eef9"/>
<text x="80.50" y="577.10" fill="#333" stroke="#333" font-size="7.6" text-anchor="middle" stroke-width="0.12">1</text>
<rect x="86.26" y="569.10" width="9.0" height="10.6" fill="#d2e2f4"/>
<text x="90.76" y="577.10" fill="#333" stroke="#333" font-size="7.6" text-anchor="middle" stroke-width="0.12">8</text>
<rect x="96.52" y="569.10" width="9.0" height="10.6" fill="#dfe9f6"/>
<text x="101.02" y="577.10" fill="#333" stroke="#333" font-size="7.6" text-anchor="middle" stroke-width="0.12">3</text>
<rect x="106.78" y="569.10" width="9.0" height="10.6" fill="#e2ecf8"/>
<text x="111.28" y="577.10" fill="#333" stroke="#333" font-size="7.6" text-anchor="middle" stroke-width="0.12">2</text>
<rect x="117.04" y="569.10" width="9.0" height="10.6" fill="#ebebeb"/>
<rect x="127.30" y="569.10" width="9.0" height="10.6" fill="#ebebeb"/>
<rect x="137.56" y="569.10" width="9.0" height="10.6" fill="#ebebeb"/>
<rect x="147.82" y="569.10" width="9.0" height="10.6" fill="#ebebeb"/>
<rect x="158.08" y="569.10" width="9.0" height="10.6" fill="#ebebeb"/>
<rect x="168.34" y="569.10" width="9.0" height="10.6" fill="#e2ecf8"/>
<text x="172.84" y="577.10" fill="#333" stroke="#333" font-size="7.6" text-anchor="middle" stroke-width="0.12">2</text>
<rect x="178.60" y="569.10" width="9.0" height="10.6" fill="#e6eef9"/>
<text x="183.10" y="577.10" fill="#333" stroke="#333" font-size="7.6" text-anchor="middle" stroke-width="0.12">1</text>
<rect x="188.86" y="569.10" width="9.0" height="10.6" fill="#dfe9f6"/>
<text x="193.36" y="577.10" fill="#333" stroke="#333" font-size="7.6" text-anchor="middle" stroke-width="0.12">3</text>
<rect x="199.12" y="569.10" width="9.0" height="10.6" fill="#e2ecf8"/>
<text x="203.62" y="577.10" fill="#333" stroke="#333" font-size="7.6" text-anchor="middle" stroke-width="0.12">2</text>
<rect x="209.38" y="569.10" width="9.0" height="10.6" fill="#ebebeb"/>
<rect x="219.64" y="569.10" width="9.0" height="10.6" fill="#ebebeb"/>
<rect x="229.90" y="569.10" width="9.0" height="10.6" fill="#ebebeb"/>
<rect x="240.16" y="569.10" width="9.0" height="10.6" fill="#ebebeb"/>
<rect x="250.42" y="569.10" width="9.0" height="10.6" fill="#ebebeb"/>
<rect x="260.68" y="569.10" width="9.0" height="10.6" fill="#ebebeb"/>
<rect x="270.94" y="569.10" width="9.0" height="10.6" fill="#dfe9f6"/>
<text x="275.44" y="577.10" fill="#333" stroke="#333" font-size="7.6" text-anchor="middle" stroke-width="0.12">3</text>
<rect x="281.20" y="569.10" width="9.0" height="10.6" fill="#ebebeb"/>
<rect x="291.46" y="569.10" width="9.0" height="10.6" fill="#ebebeb"/>
<rect x="301.72" y="569.10" width="9.0" height="10.6" fill="#e6eef9"/>
<text x="306.22" y="577.10" fill="#333" stroke="#333" font-size="7.6" text-anchor="middle" stroke-width="0.12">1</text>
<rect x="311.98" y="569.10" width="9.0" height="10.6" fill="#ebebeb"/>
<rect x="322.24" y="569.10" width="9.0" height="10.6" fill="#ebebeb"/>
<rect x="332.50" y="569.10" width="9.0" height="10.6" fill="#ebebeb"/>
<rect x="342.76" y="569.10" width="9.0" height="10.6" fill="#ebebeb"/>
<rect x="353.02" y="569.10" width="9.0" height="10.6" fill="#ebebeb"/>
<rect x="363.28" y="569.10" width="9.0" height="10.6" fill="#ebebeb"/>
<rect x="373.54" y="569.10" width="9.0" height="10.6" fill="#ebebeb"/>
<rect x="383.80" y="569.10" width="9.0" height="10.6" fill="#ebebeb"/>
<rect x="394.06" y="569.10" width="9.0" height="10.6" fill="#e6eef9"/>
<text x="398.56" y="577.10" fill="#333" stroke="#333" font-size="7.6" text-anchor="middle" stroke-width="0.12">1</text>
<rect x="404.32" y="569.10" width="9.0" height="10.6" fill="#ebebeb"/>
<rect x="414.58" y="569.10" width="9.0" height="10.6" fill="#ebebeb"/>
<rect x="424.84" y="569.10" width="9.0" height="10.6" fill="#ebebeb"/>
<rect x="76.00" y="581.10" width="9.0" height="10.6" fill="#e6eef9"/>
<text x="80.50" y="589.10" fill="#333" stroke="#333" font-size="7.6" text-anchor="middle" stroke-width="0.12">1</text>
<rect x="86.26" y="581.10" width="9.0" height="10.6" fill="#d8e6f4"/>
<text x="90.76" y="589.10" fill="#333" stroke="#333" font-size="7.6" text-anchor="middle" stroke-width="0.12">6</text>
<rect x="96.52" y="581.10" width="9.0" height="10.6" fill="#dbe7f5"/>
<text x="101.02" y="589.10" fill="#333" stroke="#333" font-size="7.6" text-anchor="middle" stroke-width="0.12">5</text>
<rect x="106.78" y="581.10" width="9.0" height="10.6" fill="#ebebeb"/>
<rect x="117.04" y="581.10" width="9.0" height="10.6" fill="#ebebeb"/>
<rect x="127.30" y="581.10" width="9.0" height="10.6" fill="#dde8f6"/>
<text x="131.80" y="589.10" fill="#333" stroke="#333" font-size="7.6" text-anchor="middle" stroke-width="0.12">4</text>
<rect x="137.56" y="581.10" width="9.0" height="10.6" fill="#ebebeb"/>
<rect x="147.82" y="581.10" width="9.0" height="10.6" fill="#ebebeb"/>
<rect x="158.08" y="581.10" width="9.0" height="10.6" fill="#ebebeb"/>
<rect x="168.34" y="581.10" width="9.0" height="10.6" fill="#ebebeb"/>
<rect x="178.60" y="581.10" width="9.0" height="10.6" fill="#ebebeb"/>
<rect x="188.86" y="581.10" width="9.0" height="10.6" fill="#d5e4f4"/>
<text x="193.36" y="589.10" fill="#333" stroke="#333" font-size="7.6" text-anchor="middle" stroke-width="0.12">7</text>
<rect x="199.12" y="581.10" width="9.0" height="10.6" fill="#ebebeb"/>
<rect x="209.38" y="581.10" width="9.0" height="10.6" fill="#ebebeb"/>
<rect x="219.64" y="581.10" width="9.0" height="10.6" fill="#ebebeb"/>
<rect x="229.90" y="581.10" width="9.0" height="10.6" fill="#ebebeb"/>
<rect x="240.16" y="581.10" width="9.0" height="10.6" fill="#ebebeb"/>
<rect x="250.42" y="581.10" width="9.0" height="10.6" fill="#ebebeb"/>
<rect x="260.68" y="581.10" width="9.0" height="10.6" fill="#ebebeb"/>
<rect x="270.94" y="581.10" width="9.0" height="10.6" fill="#e6eef9"/>
<text x="275.44" y="589.10" fill="#333" stroke="#333" font-size="7.6" text-anchor="middle" stroke-width="0.12">1</text>
<rect x="281.20" y="581.10" width="9.0" height="10.6" fill="#ebebeb"/>
<rect x="291.46" y="581.10" width="9.0" height="10.6" fill="#ebebeb"/>
<rect x="301.72" y="581.10" width="9.0" height="10.6" fill="#ebebeb"/>
<rect x="311.98" y="581.10" width="9.0" height="10.6" fill="#ebebeb"/>
<rect x="322.24" y="581.10" width="9.0" height="10.6" fill="#ebebeb"/>
<rect x="332.50" y="581.10" width="9.0" height="10.6" fill="#ebebeb"/>
<rect x="342.76" y="581.10" width="9.0" height="10.6" fill="#ebebeb"/>
<rect x="353.02" y="581.10" width="9.0" height="10.6" fill="#ebebeb"/>
<rect x="363.28" y="581.10" width="9.0" height="10.6" fill="#ebebeb"/>
<rect x="373.54" y="581.10" width="9.0" height="10.6" fill="#ebebeb"/>
<rect x="383.80" y="581.10" width="9.0" height="10.6" fill="#ebebeb"/>
<rect x="394.06" y="581.10" width="9.0" height="10.6" fill="#ebebeb"/>
<rect x="404.32" y="581.10" width="9.0" height="10.6" fill="#e6eef9"/>
<text x="408.82" y="589.10" fill="#333" stroke="#333" font-size="7.6" text-anchor="middle" stroke-width="0.12">1</text>
<rect x="414.58" y="581.10" width="9.0" height="10.6" fill="#ebebeb"/>
<rect x="424.84" y="581.10" width="9.0" height="10.6" fill="#ebebeb"/>
<rect x="76.00" y="593.10" width="9.0" height="10.6" fill="#bfd8ee"/>
<text x="80.50" y="601.10" fill="#333" stroke="#333" font-size="7.6" text-anchor="middle" stroke-width="0.12">12</text>
<rect x="86.26" y="593.10" width="9.0" height="10.6" fill="#ebebeb"/>
<rect x="96.52" y="593.10" width="9.0" height="10.6" fill="#e2ecf8"/>
<text x="101.02" y="601.10" fill="#333" stroke="#333" font-size="7.6" text-anchor="middle" stroke-width="0.12">2</text>
<rect x="106.78" y="593.10" width="9.0" height="10.6" fill="#ebebeb"/>
<rect x="117.04" y="593.10" width="9.0" height="10.6" fill="#ebebeb"/>
<rect x="127.30" y="593.10" width="9.0" height="10.6" fill="#ebebeb"/>
<rect x="137.56" y="593.10" width="9.0" height="10.6" fill="#ebebeb"/>
<rect x="147.82" y="593.10" width="9.0" height="10.6" fill="#e6eef9"/>
<text x="152.32" y="601.10" fill="#333" stroke="#333" font-size="7.6" text-anchor="middle" stroke-width="0.12">1</text>
<rect x="158.08" y="593.10" width="9.0" height="10.6" fill="#ebebeb"/>
<rect x="168.34" y="593.10" width="9.0" height="10.6" fill="#e2ecf8"/>
<text x="172.84" y="601.10" fill="#333" stroke="#333" font-size="7.6" text-anchor="middle" stroke-width="0.12">2</text>
<rect x="178.60" y="593.10" width="9.0" height="10.6" fill="#e6eef9"/>
<text x="183.10" y="601.10" fill="#333" stroke="#333" font-size="7.6" text-anchor="middle" stroke-width="0.12">1</text>
<rect x="188.86" y="593.10" width="9.0" height="10.6" fill="#ebebeb"/>
<rect x="199.12" y="593.10" width="9.0" height="10.6" fill="#ebebeb"/>
<rect x="209.38" y="593.10" width="9.0" height="10.6" fill="#ebebeb"/>
<rect x="219.64" y="593.10" width="9.0" height="10.6" fill="#ebebeb"/>
<rect x="229.90" y="593.10" width="9.0" height="10.6" fill="#ebebeb"/>
<rect x="240.16" y="593.10" width="9.0" height="10.6" fill="#e6eef9"/>
<text x="244.66" y="601.10" fill="#333" stroke="#333" font-size="7.6" text-anchor="middle" stroke-width="0.12">1</text>
<rect x="250.42" y="593.10" width="9.0" height="10.6" fill="#ebebeb"/>
<rect x="260.68" y="593.10" width="9.0" height="10.6" fill="#ebebeb"/>
<rect x="270.94" y="593.10" width="9.0" height="10.6" fill="#ebebeb"/>
<rect x="281.20" y="593.10" width="9.0" height="10.6" fill="#e6eef9"/>
<text x="285.70" y="601.10" fill="#333" stroke="#333" font-size="7.6" text-anchor="middle" stroke-width="0.12">1</text>
<rect x="291.46" y="593.10" width="9.0" height="10.6" fill="#ebebeb"/>
<rect x="301.72" y="593.10" width="9.0" height="10.6" fill="#ebebeb"/>
<rect x="311.98" y="593.10" width="9.0" height="10.6" fill="#e6eef9"/>
<text x="316.48" y="601.10" fill="#333" stroke="#333" font-size="7.6" text-anchor="middle" stroke-width="0.12">1</text>
<rect x="322.24" y="593.10" width="9.0" height="10.6" fill="#ebebeb"/>
<rect x="332.50" y="593.10" width="9.0" height="10.6" fill="#ebebeb"/>
<rect x="342.76" y="593.10" width="9.0" height="10.6" fill="#ebebeb"/>
<rect x="353.02" y="593.10" width="9.0" height="10.6" fill="#ebebeb"/>
<rect x="363.28" y="593.10" width="9.0" height="10.6" fill="#ebebeb"/>
<rect x="373.54" y="593.10" width="9.0" height="10.6" fill="#ebebeb"/>
<rect x="383.80" y="593.10" width="9.0" height="10.6" fill="#ebebeb"/>
<rect x="394.06" y="593.10" width="9.0" height="10.6" fill="#ebebeb"/>
<rect x="404.32" y="593.10" width="9.0" height="10.6" fill="#ebebeb"/>
<rect x="414.58" y="593.10" width="9.0" height="10.6" fill="#ebebeb"/>
<rect x="424.84" y="593.10" width="9.0" height="10.6" fill="#ebebeb"/>
<rect x="76.00" y="605.10" width="9.0" height="10.6" fill="#e2ecf8"/>
<text x="80.50" y="613.10" fill="#333" stroke="#333" font-size="7.6" text-anchor="middle" stroke-width="0.12">2</text>
<rect x="86.26" y="605.10" width="9.0" height="10.6" fill="#e2ecf8"/>
<text x="90.76" y="613.10" fill="#333" stroke="#333" font-size="7.6" text-anchor="middle" stroke-width="0.12">2</text>
<rect x="96.52" y="605.10" width="9.0" height="10.6" fill="#e2ecf8"/>
<text x="101.02" y="613.10" fill="#333" stroke="#333" font-size="7.6" text-anchor="middle" stroke-width="0.12">2</text>
<rect x="106.78" y="605.10" width="9.0" height="10.6" fill="#ebebeb"/>
<rect x="117.04" y="605.10" width="9.0" height="10.6" fill="#e2ecf8"/>
<text x="121.54" y="613.10" fill="#333" stroke="#333" font-size="7.6" text-anchor="middle" stroke-width="0.12">2</text>
<rect x="127.30" y="605.10" width="9.0" height="10.6" fill="#ebebeb"/>
<rect x="137.56" y="605.10" width="9.0" height="10.6" fill="#ebebeb"/>
<rect x="147.82" y="605.10" width="9.0" height="10.6" fill="#e6eef9"/>
<text x="152.32" y="613.10" fill="#333" stroke="#333" font-size="7.6" text-anchor="middle" stroke-width="0.12">1</text>
<rect x="158.08" y="605.10" width="9.0" height="10.6" fill="#ebebeb"/>
<rect x="168.34" y="605.10" width="9.0" height="10.6" fill="#e6eef9"/>
<text x="172.84" y="613.10" fill="#333" stroke="#333" font-size="7.6" text-anchor="middle" stroke-width="0.12">1</text>
<rect x="178.60" y="605.10" width="9.0" height="10.6" fill="#e6eef9"/>
<text x="183.10" y="613.10" fill="#333" stroke="#333" font-size="7.6" text-anchor="middle" stroke-width="0.12">1</text>
<rect x="188.86" y="605.10" width="9.0" height="10.6" fill="#ebebeb"/>
<rect x="199.12" y="605.10" width="9.0" height="10.6" fill="#ebebeb"/>
<rect x="209.38" y="605.10" width="9.0" height="10.6" fill="#ebebeb"/>
<rect x="219.64" y="605.10" width="9.0" height="10.6" fill="#ebebeb"/>
<rect x="229.90" y="605.10" width="9.0" height="10.6" fill="#ebebeb"/>
<rect x="240.16" y="605.10" width="9.0" height="10.6" fill="#e6eef9"/>
<text x="244.66" y="613.10" fill="#333" stroke="#333" font-size="7.6" text-anchor="middle" stroke-width="0.12">1</text>
<rect x="250.42" y="605.10" width="9.0" height="10.6" fill="#ebebeb"/>
<rect x="260.68" y="605.10" width="9.0" height="10.6" fill="#e2ecf8"/>
<text x="265.18" y="613.10" fill="#333" stroke="#333" font-size="7.6" text-anchor="middle" stroke-width="0.12">2</text>
<rect x="270.94" y="605.10" width="9.0" height="10.6" fill="#e6eef9"/>
<text x="275.44" y="613.10" fill="#333" stroke="#333" font-size="7.6" text-anchor="middle" stroke-width="0.12">1</text>
<rect x="281.20" y="605.10" width="9.0" height="10.6" fill="#ebebeb"/>
<rect x="291.46" y="605.10" width="9.0" height="10.6" fill="#ebebeb"/>
<rect x="301.72" y="605.10" width="9.0" height="10.6" fill="#e2ecf8"/>
<text x="306.22" y="613.10" fill="#333" stroke="#333" font-size="7.6" text-anchor="middle" stroke-width="0.12">2</text>
<rect x="311.98" y="605.10" width="9.0" height="10.6" fill="#ebebeb"/>
<rect x="322.24" y="605.10" width="9.0" height="10.6" fill="#ebebeb"/>
<rect x="332.50" y="605.10" width="9.0" height="10.6" fill="#ebebeb"/>
<rect x="342.76" y="605.10" width="9.0" height="10.6" fill="#ebebeb"/>
<rect x="353.02" y="605.10" width="9.0" height="10.6" fill="#e6eef9"/>
<text x="357.52" y="613.10" fill="#333" stroke="#333" font-size="7.6" text-anchor="middle" stroke-width="0.12">1</text>
<rect x="363.28" y="605.10" width="9.0" height="10.6" fill="#ebebeb"/>
<rect x="373.54" y="605.10" width="9.0" height="10.6" fill="#ebebeb"/>
<rect x="383.80" y="605.10" width="9.0" height="10.6" fill="#ebebeb"/>
<rect x="394.06" y="605.10" width="9.0" height="10.6" fill="#ebebeb"/>
<rect x="404.32" y="605.10" width="9.0" height="10.6" fill="#e6eef9"/>
<text x="408.82" y="613.10" fill="#333" stroke="#333" font-size="7.6" text-anchor="middle" stroke-width="0.12">1</text>
<rect x="414.58" y="605.10" width="9.0" height="10.6" fill="#ebebeb"/>
<rect x="424.84" y="605.10" width="9.0" height="10.6" fill="#ebebeb"/>
<rect x="76.00" y="617.10" width="9.0" height="10.6" fill="#cfe1f3"/>
<text x="80.50" y="625.10" fill="#333" stroke="#333" font-size="7.6" text-anchor="middle" stroke-width="0.12">9</text>
<rect x="86.26" y="617.10" width="9.0" height="10.6" fill="#e2ecf8"/>
<text x="90.76" y="625.10" fill="#333" stroke="#333" font-size="7.6" text-anchor="middle" stroke-width="0.12">2</text>
<rect x="96.52" y="617.10" width="9.0" height="10.6" fill="#e6eef9"/>
<text x="101.02" y="625.10" fill="#333" stroke="#333" font-size="7.6" text-anchor="middle" stroke-width="0.12">1</text>
<rect x="106.78" y="617.10" width="9.0" height="10.6" fill="#ebebeb"/>
<rect x="117.04" y="617.10" width="9.0" height="10.6" fill="#e6eef9"/>
<text x="121.54" y="625.10" fill="#333" stroke="#333" font-size="7.6" text-anchor="middle" stroke-width="0.12">1</text>
<rect x="127.30" y="617.10" width="9.0" height="10.6" fill="#ebebeb"/>
<rect x="137.56" y="617.10" width="9.0" height="10.6" fill="#ebebeb"/>
<rect x="147.82" y="617.10" width="9.0" height="10.6" fill="#ebebeb"/>
<rect x="158.08" y="617.10" width="9.0" height="10.6" fill="#ebebeb"/>
<rect x="168.34" y="617.10" width="9.0" height="10.6" fill="#e6eef9"/>
<text x="172.84" y="625.10" fill="#333" stroke="#333" font-size="7.6" text-anchor="middle" stroke-width="0.12">1</text>
<rect x="178.60" y="617.10" width="9.0" height="10.6" fill="#e6eef9"/>
<text x="183.10" y="625.10" fill="#333" stroke="#333" font-size="7.6" text-anchor="middle" stroke-width="0.12">1</text>
<rect x="188.86" y="617.10" width="9.0" height="10.6" fill="#e6eef9"/>
<text x="193.36" y="625.10" fill="#333" stroke="#333" font-size="7.6" text-anchor="middle" stroke-width="0.12">1</text>
<rect x="199.12" y="617.10" width="9.0" height="10.6" fill="#ebebeb"/>
<rect x="209.38" y="617.10" width="9.0" height="10.6" fill="#ebebeb"/>
<rect x="219.64" y="617.10" width="9.0" height="10.6" fill="#ebebeb"/>
<rect x="229.90" y="617.10" width="9.0" height="10.6" fill="#ebebeb"/>
<rect x="240.16" y="617.10" width="9.0" height="10.6" fill="#ebebeb"/>
<rect x="250.42" y="617.10" width="9.0" height="10.6" fill="#ebebeb"/>
<rect x="260.68" y="617.10" width="9.0" height="10.6" fill="#ebebeb"/>
<rect x="270.94" y="617.10" width="9.0" height="10.6" fill="#ebebeb"/>
<rect x="281.20" y="617.10" width="9.0" height="10.6" fill="#ebebeb"/>
<rect x="291.46" y="617.10" width="9.0" height="10.6" fill="#ebebeb"/>
<rect x="301.72" y="617.10" width="9.0" height="10.6" fill="#ebebeb"/>
<rect x="311.98" y="617.10" width="9.0" height="10.6" fill="#ebebeb"/>
<rect x="322.24" y="617.10" width="9.0" height="10.6" fill="#ebebeb"/>
<rect x="332.50" y="617.10" width="9.0" height="10.6" fill="#ebebeb"/>
<rect x="342.76" y="617.10" width="9.0" height="10.6" fill="#ebebeb"/>
<rect x="353.02" y="617.10" width="9.0" height="10.6" fill="#ebebeb"/>
<rect x="363.28" y="617.10" width="9.0" height="10.6" fill="#ebebeb"/>
<rect x="373.54" y="617.10" width="9.0" height="10.6" fill="#ebebeb"/>
<rect x="383.80" y="617.10" width="9.0" height="10.6" fill="#ebebeb"/>
<rect x="394.06" y="617.10" width="9.0" height="10.6" fill="#ebebeb"/>
<rect x="404.32" y="617.10" width="9.0" height="10.6" fill="#ebebeb"/>
<rect x="414.58" y="617.10" width="9.0" height="10.6" fill="#ebebeb"/>
<rect x="424.84" y="617.10" width="9.0" height="10.6" fill="#ebebeb"/>
<rect x="80.20" y="374.8" width="0.6" height="1" fill="#d0d0d0"/>
<rect x="80.20" y="628.6" width="0.6" height="1" fill="#d0d0d0"/>
<rect x="90.46" y="374.8" width="0.6" height="1" fill="#d0d0d0"/>
<rect x="90.46" y="628.6" width="0.6" height="1" fill="#d0d0d0"/>
<rect x="100.72" y="374.8" width="0.6" height="1" fill="#d0d0d0"/>
<rect x="100.72" y="628.6" width="0.6" height="1" fill="#d0d0d0"/>
<rect x="110.98" y="374.8" width="0.6" height="1" fill="#d0d0d0"/>
<rect x="110.98" y="628.6" width="0.6" height="1" fill="#d0d0d0"/>
<rect x="121.24" y="374.8" width="0.6" height="1" fill="#d0d0d0"/>
<rect x="121.24" y="628.6" width="0.6" height="1" fill="#d0d0d0"/>
<rect x="131.50" y="374.8" width="0.6" height="1" fill="#d0d0d0"/>
<rect x="131.50" y="628.6" width="0.6" height="1" fill="#d0d0d0"/>
<rect x="141.76" y="374.8" width="0.6" height="1" fill="#d0d0d0"/>
<rect x="141.76" y="628.6" width="0.6" height="1" fill="#d0d0d0"/>
<rect x="152.02" y="374.8" width="0.6" height="1" fill="#d0d0d0"/>
<rect x="152.02" y="628.6" width="0.6" height="1" fill="#d0d0d0"/>
<rect x="162.28" y="374.8" width="0.6" height="1" fill="#d0d0d0"/>
<rect x="162.28" y="628.6" width="0.6" height="1" fill="#d0d0d0"/>
<rect x="172.54" y="374.8" width="0.6" height="1" fill="#d0d0d0"/>
<rect x="172.54" y="628.6" width="0.6" height="1" fill="#d0d0d0"/>
<rect x="182.80" y="374.8" width="0.6" height="1" fill="#d0d0d0"/>
<rect x="182.80" y="628.6" width="0.6" height="1" fill="#d0d0d0"/>
<rect x="193.06" y="374.8" width="0.6" height="1" fill="#d0d0d0"/>
<rect x="193.06" y="628.6" width="0.6" height="1" fill="#d0d0d0"/>
<rect x="203.32" y="374.8" width="0.6" height="1" fill="#d0d0d0"/>
<rect x="203.32" y="628.6" width="0.6" height="1" fill="#d0d0d0"/>
<rect x="213.58" y="374.8" width="0.6" height="1" fill="#d0d0d0"/>
<rect x="213.58" y="628.6" width="0.6" height="1" fill="#d0d0d0"/>
<rect x="223.84" y="374.8" width="0.6" height="1" fill="#d0d0d0"/>
<rect x="223.84" y="628.6" width="0.6" height="1" fill="#d0d0d0"/>
<rect x="234.10" y="374.8" width="0.6" height="1" fill="#d0d0d0"/>
<rect x="234.10" y="628.6" width="0.6" height="1" fill="#d0d0d0"/>
<rect x="244.36" y="374.8" width="0.6" height="1" fill="#d0d0d0"/>
<rect x="244.36" y="628.6" width="0.6" height="1" fill="#d0d0d0"/>
<rect x="254.62" y="374.8" width="0.6" height="1" fill="#d0d0d0"/>
<rect x="254.62" y="628.6" width="0.6" height="1" fill="#d0d0d0"/>
<rect x="264.88" y="374.8" width="0.6" height="1" fill="#d0d0d0"/>
<rect x="264.88" y="628.6" width="0.6" height="1" fill="#d0d0d0"/>
<rect x="275.14" y="374.8" width="0.6" height="1" fill="#d0d0d0"/>
<rect x="275.14" y="628.6" width="0.6" height="1" fill="#d0d0d0"/>
<rect x="285.40" y="374.8" width="0.6" height="1" fill="#d0d0d0"/>
<rect x="285.40" y="628.6" width="0.6" height="1" fill="#d0d0d0"/>
<rect x="295.66" y="374.8" width="0.6" height="1" fill="#d0d0d0"/>
<rect x="295.66" y="628.6" width="0.6" height="1" fill="#d0d0d0"/>
<rect x="305.92" y="374.8" width="0.6" height="1" fill="#d0d0d0"/>
<rect x="305.92" y="628.6" width="0.6" height="1" fill="#d0d0d0"/>
<rect x="316.18" y="374.8" width="0.6" height="1" fill="#d0d0d0"/>
<rect x="316.18" y="628.6" width="0.6" height="1" fill="#d0d0d0"/>
<rect x="326.44" y="374.8" width="0.6" height="1" fill="#d0d0d0"/>
<rect x="326.44" y="628.6" width="0.6" height="1" fill="#d0d0d0"/>
<rect x="336.70" y="374.8" width="0.6" height="1" fill="#d0d0d0"/>
<rect x="336.70" y="628.6" width="0.6" height="1" fill="#d0d0d0"/>
<rect x="346.96" y="374.8" width="0.6" height="1" fill="#d0d0d0"/>
<rect x="346.96" y="628.6" width="0.6" height="1" fill="#d0d0d0"/>
<rect x="357.22" y="374.8" width="0.6" height="1" fill="#d0d0d0"/>
<rect x="357.22" y="628.6" width="0.6" height="1" fill="#d0d0d0"/>
<rect x="367.48" y="374.8" width="0.6" height="1" fill="#d0d0d0"/>
<rect x="367.48" y="628.6" width="0.6" height="1" fill="#d0d0d0"/>
<rect x="377.74" y="374.8" width="0.6" height="1" fill="#d0d0d0"/>
<rect x="377.74" y="628.6" width="0.6" height="1" fill="#d0d0d0"/>
<rect x="388.00" y="374.8" width="0.6" height="1" fill="#d0d0d0"/>
<rect x="388.00" y="628.6" width="0.6" height="1" fill="#d0d0d0"/>
<rect x="398.26" y="374.8" width="0.6" height="1" fill="#d0d0d0"/>
<rect x="398.26" y="628.6" width="0.6" height="1" fill="#d0d0d0"/>
<rect x="408.52" y="374.8" width="0.6" height="1" fill="#d0d0d0"/>
<rect x="408.52" y="628.6" width="0.6" height="1" fill="#d0d0d0"/>
<rect x="418.78" y="374.8" width="0.6" height="1" fill="#d0d0d0"/>
<rect x="418.78" y="628.6" width="0.6" height="1" fill="#d0d0d0"/>
<rect x="429.04" y="374.8" width="0.6" height="1" fill="#d0d0d0"/>
<rect x="429.04" y="628.6" width="0.6" height="1" fill="#d0d0d0"/>
<rect x="73.6" y="382.10" width="1" height="0.6" fill="#d0d0d0"/>
<rect x="435.2" y="382.10" width="1" height="0.6" fill="#e0e0e0"/>
<rect x="73.6" y="394.10" width="1" height="0.6" fill="#d0d0d0"/>
<rect x="435.2" y="394.10" width="1" height="0.6" fill="#e0e0e0"/>
<rect x="73.6" y="406.10" width="1" height="0.6" fill="#d0d0d0"/>
<rect x="435.2" y="406.10" width="1" height="0.6" fill="#e0e0e0"/>
<rect x="73.6" y="418.10" width="1" height="0.6" fill="#d0d0d0"/>
<rect x="435.2" y="418.10" width="1" height="0.6" fill="#e0e0e0"/>
<rect x="73.6" y="430.10" width="1" height="0.6" fill="#d0d0d0"/>
<rect x="435.2" y="430.10" width="1" height="0.6" fill="#e0e0e0"/>
<rect x="73.6" y="442.10" width="1" height="0.6" fill="#d0d0d0"/>
<rect x="435.2" y="442.10" width="1" height="0.6" fill="#e0e0e0"/>
<rect x="73.6" y="454.10" width="1" height="0.6" fill="#d0d0d0"/>
<rect x="435.2" y="454.10" width="1" height="0.6" fill="#e0e0e0"/>
<rect x="73.6" y="466.10" width="1" height="0.6" fill="#d0d0d0"/>
<rect x="435.2" y="466.10" width="1" height="0.6" fill="#e0e0e0"/>
<rect x="73.6" y="478.10" width="1" height="0.6" fill="#d0d0d0"/>
<rect x="435.2" y="478.10" width="1" height="0.6" fill="#e0e0e0"/>
<rect x="73.6" y="490.10" width="1" height="0.6" fill="#d0d0d0"/>
<rect x="435.2" y="490.10" width="1" height="0.6" fill="#e0e0e0"/>
<rect x="73.6" y="502.10" width="1" height="0.6" fill="#d0d0d0"/>
<rect x="435.2" y="502.10" width="1" height="0.6" fill="#e0e0e0"/>
<rect x="73.6" y="514.10" width="1" height="0.6" fill="#d0d0d0"/>
<rect x="435.2" y="514.10" width="1" height="0.6" fill="#e0e0e0"/>
<rect x="73.6" y="526.10" width="1" height="0.6" fill="#d0d0d0"/>
<rect x="435.2" y="526.10" width="1" height="0.6" fill="#e0e0e0"/>
<rect x="73.6" y="538.10" width="1" height="0.6" fill="#d0d0d0"/>
<rect x="435.2" y="538.10" width="1" height="0.6" fill="#e0e0e0"/>
<rect x="73.6" y="550.10" width="1" height="0.6" fill="#d0d0d0"/>
<rect x="435.2" y="550.10" width="1" height="0.6" fill="#e0e0e0"/>
<rect x="73.6" y="562.10" width="1" height="0.6" fill="#d0d0d0"/>
<rect x="435.2" y="562.10" width="1" height="0.6" fill="#e0e0e0"/>
<rect x="73.6" y="574.10" width="1" height="0.6" fill="#d0d0d0"/>
<rect x="435.2" y="574.10" width="1" height="0.6" fill="#e0e0e0"/>
<rect x="73.6" y="586.10" width="1" height="0.6" fill="#d0d0d0"/>
<rect x="435.2" y="586.10" width="1" height="0.6" fill="#e0e0e0"/>
<rect x="73.6" y="598.10" width="1" height="0.6" fill="#d0d0d0"/>
<rect x="435.2" y="598.10" width="1" height="0.6" fill="#e0e0e0"/>
<rect x="73.6" y="610.10" width="1" height="0.6" fill="#d0d0d0"/>
<rect x="435.2" y="610.10" width="1" height="0.6" fill="#e0e0e0"/>
<rect x="73.6" y="622.10" width="1" height="0.6" fill="#d0d0d0"/>
<rect x="435.2" y="622.10" width="1" height="0.6" fill="#e0e0e0"/>
<text stroke-width="0.22" x="72" y="382.90" fill="#333" stroke="#333" font-size="7.6" text-anchor="end">Colorectal</text>
<text stroke-width="0.22" x="72" y="394.90" fill="#333" stroke="#333" font-size="7.6" text-anchor="end">Lung</text>
<text stroke-width="0.22" x="72" y="406.90" fill="#333" stroke="#333" font-size="7.6" text-anchor="end">Brain</text>
<text stroke-width="0.22" x="72" y="418.90" fill="#333" stroke="#333" font-size="7.6" text-anchor="end">Other</text>
<text stroke-width="0.22" x="72" y="430.90" fill="#333" stroke="#333" font-size="7.6" text-anchor="end">Prostate</text>
<text stroke-width="0.22" x="72" y="442.90" fill="#333" stroke="#333" font-size="7.6" text-anchor="end">Sarcoma</text>
<text stroke-width="0.22" x="72" y="454.90" fill="#333" stroke="#333" font-size="7.6" text-anchor="end">Breast</text>
<text stroke-width="0.22" x="72" y="466.90" fill="#333" stroke="#333" font-size="7.6" text-anchor="end">Bile Duct</text>
<text stroke-width="0.22" x="72" y="478.90" fill="#333" stroke="#333" font-size="7.6" text-anchor="end">Ovarian</text>
<text stroke-width="0.22" x="72" y="490.90" fill="#333" stroke="#333" font-size="7.6" text-anchor="end">Endometrial</text>
<text stroke-width="0.22" x="72" y="502.90" fill="#333" stroke="#333" font-size="7.6" text-anchor="end">Head and Neck</text>
<text stroke-width="0.22" x="72" y="514.90" fill="#333" stroke="#333" font-size="7.6" text-anchor="end">Skin and adnexal</text>
<text stroke-width="0.22" x="72" y="526.90" fill="#333" stroke="#333" font-size="7.6" text-anchor="end">Unknown primary</text>
<text stroke-width="0.22" x="72" y="538.90" fill="#333" stroke="#333" font-size="7.6" text-anchor="end">Pancreatic</text>
<text stroke-width="0.22" x="72" y="550.90" fill="#333" stroke="#333" font-size="7.6" text-anchor="end">Oesophageal</text>
<text stroke-width="0.22" x="72" y="562.90" fill="#333" stroke="#333" font-size="7.6" text-anchor="end">Thyroid</text>
<text stroke-width="0.22" x="72" y="574.90" fill="#333" stroke="#333" font-size="7.6" text-anchor="end">Bladder</text>
<text stroke-width="0.22" x="72" y="586.90" fill="#333" stroke="#333" font-size="7.6" text-anchor="end">Cervical</text>
<text stroke-width="0.22" x="72" y="598.90" fill="#333" stroke="#333" font-size="7.6" text-anchor="end">Gastric</text>
<text stroke-width="0.22" x="72" y="610.90" fill="#333" stroke="#333" font-size="7.6" text-anchor="end">Neuroendocrine</text>
<text stroke-width="0.22" x="72" y="622.90" fill="#333" stroke="#333" font-size="7.6" text-anchor="end">Small intestine</text>
<text stroke-width="0.22" transform="translate(83.20,633.1) rotate(-90)" fill="#333" stroke="#333" font-size="7.6" text-anchor="end">MSI-H</text>
<text stroke-width="0.22" transform="translate(93.46,633.1) rotate(-90)" fill="#333" stroke="#333" font-size="7.6" text-anchor="end" font-style="italic">ERBB2</text>
<text stroke-width="0.22" transform="translate(103.72,633.1) rotate(-90)" fill="#333" stroke="#333" font-size="7.6" text-anchor="end">TML-H</text>
<text stroke-width="0.22" transform="translate(113.98,633.1) rotate(-90)" fill="#333" stroke="#333" font-size="7.6" text-anchor="end" font-style="italic">BRAF</text>
<text stroke-width="0.22" transform="translate(124.24,633.1) rotate(-90)" fill="#333" stroke="#333" font-size="7.6" text-anchor="end" font-style="italic">CDKN2</text>
<text stroke-width="0.22" transform="translate(134.50,633.1) rotate(-90)" fill="#333" stroke="#333" font-size="7.6" text-anchor="end">RAS/RAFwt</text>
<text stroke-width="0.22" transform="translate(144.76,633.1) rotate(-90)" fill="#333" stroke="#333" font-size="7.6" text-anchor="end" font-style="italic">MET</text>
<text stroke-width="0.22" transform="translate(155.02,633.1) rotate(-90)" fill="#333" stroke="#333" font-size="7.6" text-anchor="end" font-style="italic">BRCA1/2</text>
<text stroke-width="0.22" transform="translate(165.28,633.1) rotate(-90)" fill="#333" stroke="#333" font-size="7.6" text-anchor="end" font-style="italic">FGFR1</text>
<text stroke-width="0.22" transform="translate(175.54,633.1) rotate(-90)" fill="#333" stroke="#333" font-size="7.6" text-anchor="end" font-style="italic">ATM</text>
<text stroke-width="0.22" transform="translate(185.80,633.1) rotate(-90)" fill="#333" stroke="#333" font-size="7.6" text-anchor="end">Other</text>
<text stroke-width="0.22" transform="translate(196.06,633.1) rotate(-90)" fill="#333" stroke="#333" font-size="7.6" text-anchor="end" font-style="italic">PIK3CA</text>
<text stroke-width="0.22" transform="translate(206.32,633.1) rotate(-90)" fill="#333" stroke="#333" font-size="7.6" text-anchor="end" font-style="italic">EGFR</text>
<text stroke-width="0.22" transform="translate(216.58,633.1) rotate(-90)" fill="#333" stroke="#333" font-size="7.6" text-anchor="end">CDK4</text>
<text stroke-width="0.22" transform="translate(226.84,633.1) rotate(-90)" fill="#333" stroke="#333" font-size="7.6" text-anchor="end" font-style="italic">FGFR2</text>
<text stroke-width="0.22" transform="translate(237.10,633.1) rotate(-90)" fill="#333" stroke="#333" font-size="7.6" text-anchor="end" font-style="italic">KIT</text>
<text stroke-width="0.22" transform="translate(247.36,633.1) rotate(-90)" fill="#333" stroke="#333" font-size="7.6" text-anchor="end">TMB-H</text>
<text stroke-width="0.22" transform="translate(257.62,633.1) rotate(-90)" fill="#333" stroke="#333" font-size="7.6" text-anchor="end" font-style="italic">NRAS</text>
<text stroke-width="0.22" transform="translate(267.88,633.1) rotate(-90)" fill="#333" stroke="#333" font-size="7.6" text-anchor="end">CCND1</text>
<text stroke-width="0.22" transform="translate(278.14,633.1) rotate(-90)" fill="#333" stroke="#333" font-size="7.6" text-anchor="end" font-style="italic">FGFR3</text>
<text stroke-width="0.22" transform="translate(288.40,633.1) rotate(-90)" fill="#333" stroke="#333" font-size="7.6" text-anchor="end" font-style="italic">MAP2K1</text>
<text stroke-width="0.22" transform="translate(298.66,633.1) rotate(-90)" fill="#333" stroke="#333" font-size="7.6" text-anchor="end" font-style="italic">ALK</text>
<text stroke-width="0.22" transform="translate(308.92,633.1) rotate(-90)" fill="#333" stroke="#333" font-size="7.6" text-anchor="end">HRD</text>
<text stroke-width="0.22" transform="translate(319.18,633.1) rotate(-90)" fill="#333" stroke="#333" font-size="7.6" text-anchor="end" font-style="italic">NF1</text>
<text stroke-width="0.22" transform="translate(329.44,633.1) rotate(-90)" fill="#333" stroke="#333" font-size="7.6" text-anchor="end" font-style="italic">PTEN</text>
<text stroke-width="0.22" transform="translate(339.70,633.1) rotate(-90)" fill="#333" stroke="#333" font-size="7.6" text-anchor="end" font-style="italic">ROS1</text>
<text stroke-width="0.22" transform="translate(349.96,633.1) rotate(-90)" fill="#333" stroke="#333" font-size="7.6" text-anchor="end" font-style="italic">CHEK2</text>
<text stroke-width="0.22" transform="translate(360.22,633.1) rotate(-90)" fill="#333" stroke="#333" font-size="7.6" text-anchor="end" font-style="italic">PDGFRA</text>
<text stroke-width="0.22" transform="translate(370.48,633.1) rotate(-90)" fill="#333" stroke="#333" font-size="7.6" text-anchor="end">CDK12</text>
<text stroke-width="0.22" transform="translate(380.74,633.1) rotate(-90)" fill="#333" stroke="#333" font-size="7.6" text-anchor="end" font-style="italic">RET</text>
<text stroke-width="0.22" transform="translate(391.00,633.1) rotate(-90)" fill="#333" stroke="#333" font-size="7.6" text-anchor="end" font-style="italic">MAP2K4</text>
<text stroke-width="0.22" transform="translate(401.26,633.1) rotate(-90)" fill="#333" stroke="#333" font-size="7.6" text-anchor="end" font-style="italic">PPP2R2A</text>
<text stroke-width="0.22" transform="translate(411.52,633.1) rotate(-90)" fill="#333" stroke="#333" font-size="7.6" text-anchor="end" font-style="italic">MAP3K1</text>
<text stroke-width="0.22" transform="translate(421.78,633.1) rotate(-90)" fill="#333" stroke="#333" font-size="7.6" text-anchor="end" font-style="italic">RAD51B</text>
<text stroke-width="0.22" transform="translate(432.04,633.1) rotate(-90)" fill="#333" stroke="#333" font-size="7.6" text-anchor="end" font-style="italic">PALB2</text>
<text stroke-width="0.22" x="255" y="683.1" fill="#333" stroke="#333" font-size="7.6" text-anchor="middle">Target</text>
<text stroke-width="0.22" transform="translate(6.0,501.8) rotate(-90)" fill="#333" stroke="#333" font-size="7.6" text-anchor="middle">Tumor type</text>
<line x1="74.5" y1="295.2" x2="74.5" y2="368.0" stroke="#8a8a8a" stroke-width="0.9"/>
<line x1="71" y1="367.70" x2="74.5" y2="367.70" stroke="#888" stroke-width="0.9"/>
<text stroke-width="0.22" x="68" y="370.40" fill="#333" stroke="#333" font-size="7.6" text-anchor="end">0</text>
<line x1="71" y1="347.63" x2="74.5" y2="347.63" stroke="#888" stroke-width="0.9"/>
<text stroke-width="0.22" x="68" y="350.33" fill="#333" stroke="#333" font-size="7.6" text-anchor="end">50</text>
<line x1="71" y1="327.56" x2="74.5" y2="327.56" stroke="#888" stroke-width="0.9"/>
<text stroke-width="0.22" x="68" y="330.26" fill="#333" stroke="#333" font-size="7.6" text-anchor="end">100</text>
<line x1="71" y1="307.49" x2="74.5" y2="307.49" stroke="#888" stroke-width="0.9"/>
<text stroke-width="0.22" x="68" y="310.19" fill="#333" stroke="#333" font-size="7.6" text-anchor="end">150</text>
<text stroke-width="0.22" transform="translate(48.9,332) rotate(-90)" fill="#333" stroke="#333" font-size="7.6" text-anchor="middle">Number of patients</text>
<rect x="76.00" y="295.45" width="9.0" height="72.25" fill="#b07ab9" stroke="#fff" stroke-width="0.4"/>
<rect x="86.26" y="367.30" width="9.0" height="0.40" fill="#b07ab9" stroke="#fff" stroke-width="0.4"/>
<rect x="86.26" y="329.57" width="9.0" height="37.73" fill="#86c99c" stroke="#fff" stroke-width="0.4"/>
<rect x="86.26" y="311.91" width="9.0" height="17.66" fill="#71a8d1" stroke="#fff" stroke-width="0.4"/>
<rect x="96.52" y="312.31" width="9.0" height="55.39" fill="#b07ab9" stroke="#fff" stroke-width="0.4"/>
<rect x="106.78" y="365.69" width="9.0" height="2.01" fill="#f8aa63" stroke="#fff" stroke-width="0.4"/>
<rect x="106.78" y="331.98" width="9.0" height="33.72" fill="#71a8d1" stroke="#fff" stroke-width="0.4"/>
<rect x="117.04" y="335.99" width="9.0" height="31.71" fill="#f38072" stroke="#fff" stroke-width="0.4"/>
<rect x="127.30" y="336.79" width="9.0" height="30.91" fill="#b07ab9" stroke="#fff" stroke-width="0.4"/>
<rect x="137.56" y="366.70" width="9.0" height="1.00" fill="#f8aa63" stroke="#fff" stroke-width="0.4"/>
<rect x="137.56" y="355.46" width="9.0" height="11.24" fill="#86c99c" stroke="#fff" stroke-width="0.4"/>
<rect x="137.56" y="345.22" width="9.0" height="10.24" fill="#71a8d1" stroke="#fff" stroke-width="0.4"/>
<rect x="147.82" y="345.62" width="9.0" height="22.08" fill="#f38072" stroke="#fff" stroke-width="0.4"/>
<rect x="158.08" y="348.43" width="9.0" height="19.27" fill="#86c99c" stroke="#fff" stroke-width="0.4"/>
<rect x="158.08" y="348.03" width="9.0" height="0.40" fill="#71a8d1" stroke="#fff" stroke-width="0.4"/>
<rect x="168.34" y="350.04" width="9.0" height="17.66" fill="#f38072" stroke="#fff" stroke-width="0.4"/>
<rect x="178.60" y="361.28" width="9.0" height="6.42" fill="#f38072" stroke="#fff" stroke-width="0.4"/>
<rect x="178.60" y="355.66" width="9.0" height="5.62" fill="#86c99c" stroke="#fff" stroke-width="0.4"/>
<rect x="178.60" y="351.64" width="9.0" height="4.01" fill="#71a8d1" stroke="#fff" stroke-width="0.4"/>
<rect x="188.86" y="352.85" width="9.0" height="14.85" fill="#71a8d1" stroke="#fff" stroke-width="0.4"/>
<rect x="199.12" y="364.89" width="9.0" height="2.81" fill="#f8aa63" stroke="#fff" stroke-width="0.4"/>
<rect x="199.12" y="360.88" width="9.0" height="4.01" fill="#86c99c" stroke="#fff" stroke-width="0.4"/>
<rect x="199.12" y="354.05" width="9.0" height="6.82" fill="#71a8d1" stroke="#fff" stroke-width="0.4"/>
<rect x="209.38" y="354.86" width="9.0" height="12.84" fill="#86c99c" stroke="#fff" stroke-width="0.4"/>
<rect x="219.64" y="362.48" width="9.0" height="5.22" fill="#f8aa63" stroke="#fff" stroke-width="0.4"/>
<rect x="219.64" y="359.67" width="9.0" height="2.81" fill="#86c99c" stroke="#fff" stroke-width="0.4"/>
<rect x="219.64" y="355.66" width="9.0" height="4.01" fill="#71a8d1" stroke="#fff" stroke-width="0.4"/>
<rect x="229.90" y="355.66" width="9.0" height="12.04" fill="#71a8d1" stroke="#fff" stroke-width="0.4"/>
<rect x="240.16" y="356.46" width="9.0" height="11.24" fill="#b07ab9" stroke="#fff" stroke-width="0.4"/>
<rect x="250.42" y="358.07" width="9.0" height="9.63" fill="#71a8d1" stroke="#fff" stroke-width="0.4"/>
<rect x="260.68" y="358.87" width="9.0" height="8.83" fill="#86c99c" stroke="#fff" stroke-width="0.4"/>
<rect x="270.94" y="366.09" width="9.0" height="1.61" fill="#f8aa63" stroke="#fff" stroke-width="0.4"/>
<rect x="270.94" y="364.89" width="9.0" height="1.20" fill="#86c99c" stroke="#fff" stroke-width="0.4"/>
<rect x="270.94" y="360.88" width="9.0" height="4.01" fill="#71a8d1" stroke="#fff" stroke-width="0.4"/>
<rect x="281.20" y="360.88" width="9.0" height="6.82" fill="#71a8d1" stroke="#fff" stroke-width="0.4"/>
<rect x="291.46" y="362.88" width="9.0" height="4.82" fill="#f8aa63" stroke="#fff" stroke-width="0.4"/>
<rect x="301.72" y="362.08" width="9.0" height="5.62" fill="#b07ab9" stroke="#fff" stroke-width="0.4"/>
<rect x="311.98" y="362.88" width="9.0" height="4.82" fill="#f38072" stroke="#fff" stroke-width="0.4"/>
<rect x="322.24" y="362.88" width="9.0" height="4.82" fill="#f38072" stroke="#fff" stroke-width="0.4"/>
<rect x="332.50" y="362.88" width="9.0" height="4.82" fill="#f8aa63" stroke="#fff" stroke-width="0.4"/>
<rect x="342.76" y="362.88" width="9.0" height="4.82" fill="#f38072" stroke="#fff" stroke-width="0.4"/>
<rect x="353.02" y="365.29" width="9.0" height="2.41" fill="#86c99c" stroke="#fff" stroke-width="0.4"/>
<rect x="353.02" y="363.89" width="9.0" height="1.40" fill="#71a8d1" stroke="#fff" stroke-width="0.4"/>
<rect x="363.28" y="364.29" width="9.0" height="3.41" fill="#f38072" stroke="#fff" stroke-width="0.4"/>
<rect x="373.54" y="366.90" width="9.0" height="0.80" fill="#f8aa63" stroke="#fff" stroke-width="0.4"/>
<rect x="373.54" y="364.09" width="9.0" height="2.81" fill="#71a8d1" stroke="#fff" stroke-width="0.4"/>
<rect x="383.80" y="365.09" width="9.0" height="2.61" fill="#f38072" stroke="#fff" stroke-width="0.4"/>
<rect x="394.06" y="365.09" width="9.0" height="2.61" fill="#f38072" stroke="#fff" stroke-width="0.4"/>
<rect x="404.32" y="365.69" width="9.0" height="2.01" fill="#f38072" stroke="#fff" stroke-width="0.4"/>
<rect x="414.58" y="365.69" width="9.0" height="2.01" fill="#f38072" stroke="#fff" stroke-width="0.4"/>
<rect x="424.84" y="365.69" width="9.0" height="2.01" fill="#f38072" stroke="#fff" stroke-width="0.4"/>
<text x="451.00" y="308.60" font-size="7.6" fill="#333" stroke="#333" text-anchor="start" stroke-width="0.1">Alteration</text>
<rect x="451.00" y="313.10" width="9.50" height="8.70" rx="0" fill="#71a8d1"/>
<text x="464.80" y="320.10" font-size="7.6" fill="#333" stroke="#333" text-anchor="start" stroke-width="0.1">Activating mutation</text>
<rect x="451.00" y="323.00" width="9.50" height="8.70" rx="0" fill="#86c99c"/>
<text x="464.80" y="330.00" font-size="7.6" fill="#333" stroke="#333" text-anchor="start" stroke-width="0.1">Amplification</text>
<rect x="451.00" y="332.90" width="9.50" height="8.70" rx="0" fill="#f8aa63"/>
<text x="464.80" y="339.90" font-size="7.6" fill="#333" stroke="#333" text-anchor="start" stroke-width="0.1">Fusion</text>
<rect x="451.00" y="342.80" width="9.50" height="8.70" rx="0" fill="#f38072"/>
<text x="464.80" y="349.80" font-size="7.6" fill="#333" stroke="#333" text-anchor="start" stroke-width="0.1">Inactivation</text>
<rect x="451.00" y="352.70" width="9.50" height="8.70" rx="0" fill="#b07ab9"/>
<text x="464.80" y="359.70" font-size="7.6" fill="#333" stroke="#333" text-anchor="start" stroke-width="0.1">Other</text>
<rect x="443.4" y="377.10" width="71.91" height="10.6" fill="#8cc3dc"/>
<text stroke-width="0.22" x="516.90" y="385.10" fill="#333" stroke="#333" font-size="7.6">14.6%</text>
<rect x="443.4" y="389.10" width="65.50" height="10.6" fill="#8cc3dc"/>
<text stroke-width="0.22" x="510.50" y="397.10" fill="#333" stroke="#333" font-size="7.6">13.3%</text>
<rect x="443.4" y="401.10" width="53.68" height="10.6" fill="#8cc3dc"/>
<text stroke-width="0.22" x="498.68" y="409.10" fill="#333" stroke="#333" font-size="7.6">10.9%</text>
<rect x="443.4" y="413.10" width="36.45" height="10.6" fill="#8cc3dc"/>
<text stroke-width="0.22" x="481.44" y="421.10" fill="#333" stroke="#333" font-size="7.6">7.4%</text>
<rect x="443.4" y="425.10" width="35.95" height="10.6" fill="#8cc3dc"/>
<text stroke-width="0.22" x="480.95" y="433.10" fill="#333" stroke="#333" font-size="7.6">7.3%</text>
<rect x="443.4" y="437.10" width="29.06" height="10.6" fill="#8cc3dc"/>
<text stroke-width="0.22" x="474.06" y="445.10" fill="#333" stroke="#333" font-size="7.6">5.9%</text>
<rect x="443.4" y="449.10" width="27.58" height="10.6" fill="#8cc3dc"/>
<text stroke-width="0.22" x="472.58" y="457.10" fill="#333" stroke="#333" font-size="7.6">5.6%</text>
<rect x="443.4" y="461.10" width="19.70" height="10.6" fill="#8cc3dc"/>
<text stroke-width="0.22" x="464.70" y="469.10" fill="#333" stroke="#333" font-size="7.6">4.0%</text>
<rect x="443.4" y="473.10" width="16.74" height="10.6" fill="#8cc3dc"/>
<text stroke-width="0.22" x="461.75" y="481.10" fill="#333" stroke="#333" font-size="7.6">3.4%</text>
<rect x="443.4" y="485.10" width="16.25" height="10.6" fill="#8cc3dc"/>
<text stroke-width="0.22" x="461.25" y="493.10" fill="#333" stroke="#333" font-size="7.6">3.3%</text>
<rect x="443.4" y="497.10" width="15.76" height="10.6" fill="#8cc3dc"/>
<text stroke-width="0.22" x="460.76" y="505.10" fill="#333" stroke="#333" font-size="7.6">3.2%</text>
<rect x="443.4" y="509.10" width="14.28" height="10.6" fill="#8cc3dc"/>
<text stroke-width="0.22" x="459.28" y="517.10" fill="#333" stroke="#333" font-size="7.6">2.9%</text>
<rect x="443.4" y="521.10" width="14.28" height="10.6" fill="#8cc3dc"/>
<text stroke-width="0.22" x="459.28" y="529.10" fill="#333" stroke="#333" font-size="7.6">2.9%</text>
<rect x="443.4" y="533.10" width="12.31" height="10.6" fill="#8cc3dc"/>
<text stroke-width="0.22" x="457.31" y="541.10" fill="#333" stroke="#333" font-size="7.6">2.5%</text>
<rect x="443.4" y="545.10" width="11.82" height="10.6" fill="#8cc3dc"/>
<text stroke-width="0.22" x="456.82" y="553.10" fill="#333" stroke="#333" font-size="7.6">2.4%</text>
<rect x="443.4" y="557.10" width="11.33" height="10.6" fill="#8cc3dc"/>
<text stroke-width="0.22" x="456.33" y="565.10" fill="#333" stroke="#333" font-size="7.6">2.3%</text>
<rect x="443.4" y="569.10" width="9.85" height="10.6" fill="#8cc3dc"/>
<text stroke-width="0.22" x="454.85" y="577.10" fill="#333" stroke="#333" font-size="7.6">2.0%</text>
<rect x="443.4" y="581.10" width="8.87" height="10.6" fill="#8cc3dc"/>
<text stroke-width="0.22" x="453.87" y="589.10" fill="#333" stroke="#333" font-size="7.6">1.8%</text>
<rect x="443.4" y="593.10" width="7.39" height="10.6" fill="#8cc3dc"/>
<text stroke-width="0.22" x="452.39" y="601.10" fill="#333" stroke="#333" font-size="7.6">1.5%</text>
<rect x="443.4" y="605.10" width="6.89" height="10.6" fill="#8cc3dc"/>
<text stroke-width="0.22" x="451.89" y="613.10" fill="#333" stroke="#333" font-size="7.6">1.4%</text>
<rect x="443.4" y="617.10" width="5.91" height="10.6" fill="#8cc3dc"/>
<text stroke-width="0.22" x="450.91" y="625.10" fill="#333" stroke="#333" font-size="7.6">1.2%</text>
<line x1="443.4" y1="629.6" x2="533.7" y2="629.6" stroke="#888" stroke-width="0.9"/>
<line x1="443.40" y1="629.6" x2="443.40" y2="632" stroke="#888" stroke-width="0.9"/>
<text stroke-width="0.22" x="443.40" y="641.6" fill="#333" stroke="#333" font-size="7.6" text-anchor="middle">0</text>
<line x1="461.46" y1="629.6" x2="461.46" y2="632" stroke="#888" stroke-width="0.9"/>
<text stroke-width="0.22" x="461.46" y="641.6" fill="#333" stroke="#333" font-size="7.6" text-anchor="middle">50</text>
<line x1="479.52" y1="629.6" x2="479.52" y2="632" stroke="#888" stroke-width="0.9"/>
<text stroke-width="0.22" x="479.52" y="641.6" fill="#333" stroke="#333" font-size="7.6" text-anchor="middle">100</text>
<line x1="497.58" y1="629.6" x2="497.58" y2="632" stroke="#888" stroke-width="0.9"/>
<text stroke-width="0.22" x="497.58" y="641.6" fill="#333" stroke="#333" font-size="7.6" text-anchor="middle">150</text>
<line x1="515.64" y1="629.6" x2="515.64" y2="632" stroke="#888" stroke-width="0.9"/>
<text stroke-width="0.22" x="515.64" y="641.6" fill="#333" stroke="#333" font-size="7.6" text-anchor="middle">200</text>
<line x1="533.70" y1="629.6" x2="533.70" y2="632" stroke="#888" stroke-width="0.9"/>
<text stroke-width="0.22" x="533.70" y="641.6" fill="#333" stroke="#333" font-size="7.6" text-anchor="middle">250</text>
<text stroke-width="0.22" x="489" y="654" fill="#333" stroke="#333" font-size="7.6" text-anchor="middle">Number of patients</text>
</svg>
</body></html>
